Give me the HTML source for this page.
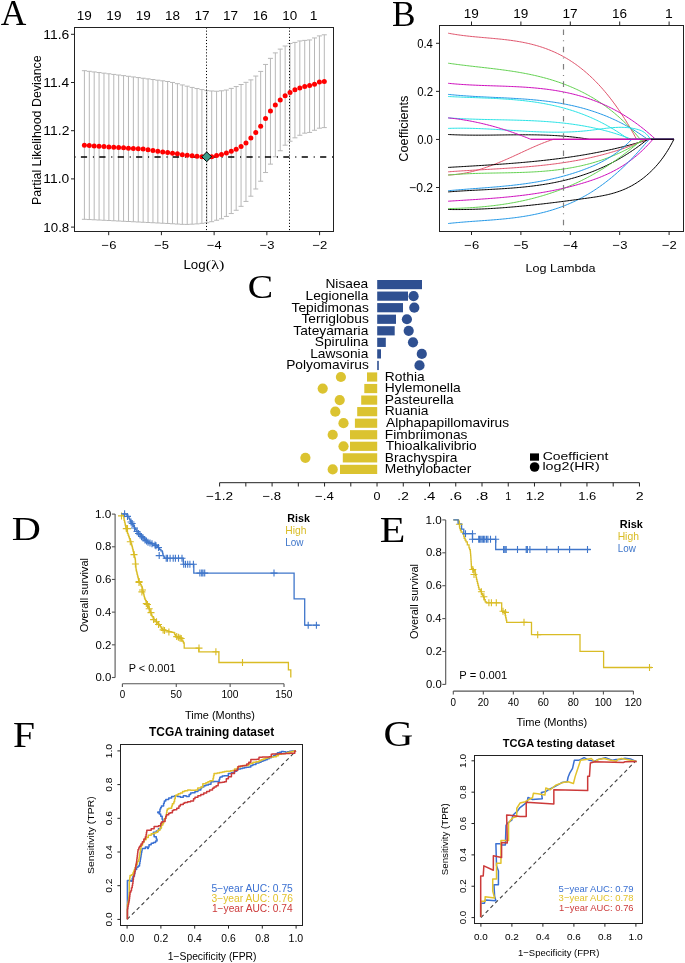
<!DOCTYPE html>
<html><head><meta charset="utf-8"><style>html,body{margin:0;padding:0;background:#fff;width:685px;height:963px;overflow:hidden}svg{display:block} text{-webkit-font-smoothing:antialiased} svg{will-change:transform}</style></head>
<body><svg width="685" height="963" viewBox="0 0 685 963">
<rect width="685" height="963" fill="#fff"/>
<text x="0.65" y="25.00" font-size="34.85" textLength="25.61" lengthAdjust="spacingAndGlyphs" fill="#000" font-family='"Liberation Serif", serif' font-weight="normal" >A</text>
<text x="391.88" y="26.00" font-size="35.71" textLength="23.55" lengthAdjust="spacingAndGlyphs" fill="#000" font-family='"Liberation Serif", serif' font-weight="normal" >B</text>
<text x="247.74" y="298.40" font-size="32.74" textLength="25.35" lengthAdjust="spacingAndGlyphs" fill="#000" font-family='"Liberation Serif", serif' font-weight="normal" >C</text>
<text x="11.73" y="539.70" font-size="33.94" textLength="29.09" lengthAdjust="spacingAndGlyphs" fill="#000" font-family='"Liberation Serif", serif' font-weight="normal" >D</text>
<text x="379.78" y="542.20" font-size="35.27" textLength="25.60" lengthAdjust="spacingAndGlyphs" fill="#000" font-family='"Liberation Serif", serif' font-weight="normal" >E</text>
<text x="12.95" y="747.10" font-size="35.88" textLength="21.97" lengthAdjust="spacingAndGlyphs" fill="#000" font-family='"Liberation Serif", serif' font-weight="normal" >F</text>
<text x="383.51" y="746.40" font-size="35.86" textLength="29.78" lengthAdjust="spacingAndGlyphs" fill="#000" font-family='"Liberation Serif", serif' font-weight="normal" >G</text>
<path d="M84.40,70.70V219.30M81.90,70.70H86.90M81.90,219.30H86.90M89.30,71.32V219.55M86.80,71.32H91.80M86.80,219.55H91.80M94.19,71.94V219.79M91.69,71.94H96.69M91.69,219.79H96.69M99.09,72.55V220.04M96.59,72.55H101.59M96.59,220.04H101.59M103.98,73.17V220.28M101.48,73.17H106.48M101.48,220.28H106.48M108.88,73.79V220.53M106.38,73.79H111.38M106.38,220.53H111.38M113.78,74.41V220.78M111.28,74.41H116.28M111.28,220.78H116.28M118.67,75.03V221.02M116.17,75.03H121.17M116.17,221.02H121.17M123.57,75.65V221.27M121.07,75.65H126.07M121.07,221.27H126.07M128.46,76.29V221.51M125.96,76.29H130.96M125.96,221.51H130.96M133.36,76.94V221.76M130.86,76.94H135.86M130.86,221.76H135.86M138.26,77.59V222.01M135.76,77.59H140.76M135.76,222.01H140.76M143.15,78.24V222.25M140.65,78.24H145.65M140.65,222.25H145.65M148.05,78.89V222.50M145.55,78.89H150.55M145.55,222.50H150.55M152.94,79.54V222.74M150.44,79.54H155.44M150.44,222.74H155.44M157.84,80.19V222.99M155.34,80.19H160.34M155.34,222.99H160.34M162.74,80.84V223.24M160.24,80.84H165.24M160.24,223.24H165.24M167.63,81.49V223.48M165.13,81.49H170.13M165.13,223.48H170.13M172.53,82.44V223.75M170.03,82.44H175.03M170.03,223.75H175.03M177.42,83.69V224.05M174.92,83.69H179.92M174.92,224.05H179.92M182.32,84.94V224.34M179.82,84.94H184.82M179.82,224.34H184.82M187.22,86.18V224.40M184.72,86.18H189.72M184.72,224.40H189.72M192.11,87.42V224.18M189.61,87.42H194.61M189.61,224.18H194.61M197.01,88.56V223.89M194.51,88.56H199.51M194.51,223.89H199.51M201.90,89.59V223.35M199.40,89.59H204.40M199.40,223.35H204.40M206.80,90.61V222.76M204.30,90.61H209.30M204.30,222.76H209.30M211.70,90.98V221.71M209.20,90.98H214.20M209.20,221.71H214.20M216.59,91.24V220.24M214.09,91.24H219.09M214.09,220.24H219.09M221.49,90.81V218.80M218.99,90.81H223.99M218.99,218.80H223.99M226.38,90.03V216.41M223.88,90.03H228.88M223.88,216.41H228.88M231.28,88.38V213.55M228.78,88.38H233.78M228.78,213.55H233.78M236.18,86.59V210.26M233.68,86.59H238.68M233.68,210.26H238.68M241.07,84.51V206.33M238.57,84.51H243.57M238.57,206.33H243.57M245.97,82.34V201.42M243.47,82.34H248.47M243.47,201.42H248.47M250.86,79.89V196.21M248.36,79.89H253.36M248.36,196.21H253.36M255.76,76.05V188.99M253.26,76.05H258.26M253.26,188.99H258.26M260.66,71.42V181.22M258.16,71.42H263.16M258.16,181.22H263.16M265.55,64.44V172.54M263.05,64.44H268.05M263.05,172.54H268.05M270.45,58.35V164.13M267.95,58.35H272.95M267.95,164.13H272.95M275.34,52.89V156.82M272.84,52.89H277.84M272.84,156.82H277.84M280.24,49.11V150.74M277.74,49.11H282.74M277.74,150.74H282.74M285.14,46.03V145.19M282.64,46.03H287.64M282.64,145.19H287.64M290.03,43.47V141.24M287.53,43.47H292.53M287.53,141.24H292.53M294.93,42.40V137.83M292.43,42.40H297.43M292.43,137.83H297.43M299.82,40.96V135.26M297.32,40.96H302.32M297.32,135.26H302.32M304.72,40.38V133.17M302.22,40.38H307.22M302.22,133.17H307.22M309.62,39.95V132.45M307.12,39.95H312.12M307.12,132.45H312.12M314.51,37.95V130.25M312.01,37.95H317.01M312.01,130.25H317.01M319.41,35.90V128.20M316.91,35.90H321.91M316.91,128.20H321.91M324.30,34.80V127.60M321.80,34.80H326.80M321.80,127.60H326.80" stroke="#b8b8b8" stroke-width="1" fill="none"/>
<line x1="206.50" y1="27.50" x2="206.50" y2="231.50" stroke="#000" stroke-width="1" stroke-dasharray="1.1 2.0"/>
<line x1="289.50" y1="27.50" x2="289.50" y2="231.50" stroke="#000" stroke-width="1" stroke-dasharray="1.1 2.0"/>
<line x1="74.50" y1="156.90" x2="333.50" y2="156.90" stroke="#000" stroke-width="1.5" stroke-dasharray="1 5.4 6.2 5.8"/>
<g fill="#ff0000"><circle cx="84.40" cy="145.30" r="2.5"/><circle cx="89.30" cy="145.62" r="2.5"/><circle cx="94.19" cy="145.93" r="2.5"/><circle cx="99.09" cy="146.25" r="2.5"/><circle cx="103.98" cy="146.57" r="2.5"/><circle cx="108.88" cy="146.88" r="2.5"/><circle cx="113.78" cy="147.20" r="2.5"/><circle cx="118.67" cy="147.51" r="2.5"/><circle cx="123.57" cy="147.83" r="2.5"/><circle cx="128.46" cy="148.15" r="2.5"/><circle cx="133.36" cy="148.46" r="2.5"/><circle cx="138.26" cy="148.78" r="2.5"/><circle cx="143.15" cy="149.10" r="2.5"/><circle cx="148.05" cy="149.79" r="2.5"/><circle cx="152.94" cy="150.49" r="2.5"/><circle cx="157.84" cy="151.19" r="2.5"/><circle cx="162.74" cy="151.89" r="2.5"/><circle cx="167.63" cy="152.59" r="2.5"/><circle cx="172.53" cy="153.22" r="2.5"/><circle cx="177.42" cy="153.70" r="2.5"/><circle cx="182.32" cy="154.64" r="2.5"/><circle cx="187.22" cy="155.13" r="2.5"/><circle cx="192.11" cy="155.64" r="2.5"/><circle cx="197.01" cy="156.32" r="2.5"/><circle cx="201.90" cy="156.80" r="2.5"/><circle cx="206.80" cy="156.80" r="2.5"/><circle cx="211.70" cy="156.73" r="2.5"/><circle cx="216.59" cy="155.56" r="2.5"/><circle cx="221.49" cy="154.57" r="2.5"/><circle cx="226.38" cy="153.07" r="2.5"/><circle cx="231.28" cy="151.31" r="2.5"/><circle cx="236.18" cy="149.15" r="2.5"/><circle cx="241.07" cy="146.47" r="2.5"/><circle cx="245.97" cy="143.06" r="2.5"/><circle cx="250.86" cy="137.91" r="2.5"/><circle cx="255.76" cy="132.59" r="2.5"/><circle cx="260.66" cy="126.21" r="2.5"/><circle cx="265.55" cy="118.52" r="2.5"/><circle cx="270.45" cy="110.98" r="2.5"/><circle cx="275.34" cy="104.89" r="2.5"/><circle cx="280.24" cy="99.96" r="2.5"/><circle cx="285.14" cy="95.73" r="2.5"/><circle cx="290.03" cy="92.52" r="2.5"/><circle cx="294.93" cy="89.75" r="2.5"/><circle cx="299.82" cy="88.01" r="2.5"/><circle cx="304.72" cy="86.60" r="2.5"/><circle cx="309.62" cy="85.62" r="2.5"/><circle cx="314.51" cy="84.16" r="2.5"/><circle cx="319.41" cy="82.10" r="2.5"/><circle cx="324.30" cy="81.40" r="2.5"/></g>
<path d="M206.7,151.9L211.6,156.8L206.7,161.70000000000002L201.79999999999998,156.8Z" fill="#3d9c8a" stroke="#000" stroke-width="1"/>
<rect x="74.5" y="27.5" width="259.0" height="204.0" fill="none" stroke="#222" stroke-width="1"/>
<line x1="71.00" y1="34.30" x2="74.50" y2="34.30" stroke="#222" stroke-width="1" />
<text x="43.35" y="38.70" font-size="12.30" textLength="25.97" lengthAdjust="spacingAndGlyphs" fill="#000" font-family='"Liberation Sans", sans-serif' font-weight="normal" >11.6</text>
<line x1="71.00" y1="82.50" x2="74.50" y2="82.50" stroke="#222" stroke-width="1" />
<text x="43.35" y="86.90" font-size="12.30" textLength="25.75" lengthAdjust="spacingAndGlyphs" fill="#000" font-family='"Liberation Sans", sans-serif' font-weight="normal" >11.4</text>
<line x1="71.00" y1="130.70" x2="74.50" y2="130.70" stroke="#222" stroke-width="1" />
<text x="43.34" y="135.10" font-size="12.30" textLength="26.05" lengthAdjust="spacingAndGlyphs" fill="#000" font-family='"Liberation Sans", sans-serif' font-weight="normal" >11.2</text>
<line x1="71.00" y1="178.90" x2="74.50" y2="178.90" stroke="#222" stroke-width="1" />
<text x="43.35" y="183.30" font-size="12.30" textLength="25.89" lengthAdjust="spacingAndGlyphs" fill="#000" font-family='"Liberation Sans", sans-serif' font-weight="normal" >11.0</text>
<line x1="71.00" y1="227.10" x2="74.50" y2="227.10" stroke="#222" stroke-width="1" />
<text x="43.39" y="231.50" font-size="12.30" textLength="25.89" lengthAdjust="spacingAndGlyphs" fill="#000" font-family='"Liberation Sans", sans-serif' font-weight="normal" >10.8</text>
<line x1="108.70" y1="231.50" x2="108.70" y2="235.20" stroke="#222" stroke-width="1" />
<text x="101.56" y="249.10" font-size="11.70" textLength="14.81" lengthAdjust="spacingAndGlyphs" fill="#000" font-family='"Liberation Sans", sans-serif' font-weight="normal" >−6</text>
<line x1="161.42" y1="231.50" x2="161.42" y2="235.20" stroke="#222" stroke-width="1" />
<text x="154.28" y="249.10" font-size="11.70" textLength="14.78" lengthAdjust="spacingAndGlyphs" fill="#000" font-family='"Liberation Sans", sans-serif' font-weight="normal" >−5</text>
<line x1="214.14" y1="231.50" x2="214.14" y2="235.20" stroke="#222" stroke-width="1" />
<text x="207.01" y="249.10" font-size="11.70" textLength="14.60" lengthAdjust="spacingAndGlyphs" fill="#000" font-family='"Liberation Sans", sans-serif' font-weight="normal" >−4</text>
<line x1="266.86" y1="231.50" x2="266.86" y2="235.20" stroke="#222" stroke-width="1" />
<text x="259.72" y="249.10" font-size="11.70" textLength="14.81" lengthAdjust="spacingAndGlyphs" fill="#000" font-family='"Liberation Sans", sans-serif' font-weight="normal" >−3</text>
<line x1="319.58" y1="231.50" x2="319.58" y2="235.20" stroke="#222" stroke-width="1" />
<text x="312.44" y="249.10" font-size="11.70" textLength="14.90" lengthAdjust="spacingAndGlyphs" fill="#000" font-family='"Liberation Sans", sans-serif' font-weight="normal" >−2</text>
<text x="76.67" y="20.10" font-size="13.10" textLength="15.07" lengthAdjust="spacingAndGlyphs" fill="#000" font-family='"Liberation Sans", sans-serif' font-weight="normal" >19</text>
<text x="106.37" y="20.10" font-size="13.10" textLength="15.07" lengthAdjust="spacingAndGlyphs" fill="#000" font-family='"Liberation Sans", sans-serif' font-weight="normal" >19</text>
<text x="135.67" y="20.10" font-size="13.10" textLength="15.07" lengthAdjust="spacingAndGlyphs" fill="#000" font-family='"Liberation Sans", sans-serif' font-weight="normal" >19</text>
<text x="165.07" y="20.10" font-size="13.10" textLength="15.01" lengthAdjust="spacingAndGlyphs" fill="#000" font-family='"Liberation Sans", sans-serif' font-weight="normal" >18</text>
<text x="194.57" y="20.10" font-size="13.10" textLength="15.12" lengthAdjust="spacingAndGlyphs" fill="#000" font-family='"Liberation Sans", sans-serif' font-weight="normal" >17</text>
<text x="223.07" y="20.10" font-size="13.10" textLength="15.12" lengthAdjust="spacingAndGlyphs" fill="#000" font-family='"Liberation Sans", sans-serif' font-weight="normal" >17</text>
<text x="252.87" y="20.10" font-size="13.10" textLength="15.03" lengthAdjust="spacingAndGlyphs" fill="#000" font-family='"Liberation Sans", sans-serif' font-weight="normal" >16</text>
<text x="282.18" y="20.10" font-size="13.10" textLength="14.95" lengthAdjust="spacingAndGlyphs" fill="#000" font-family='"Liberation Sans", sans-serif' font-weight="normal" >10</text>
<text x="309.84" y="20.10" font-size="13.10" textLength="7.74" lengthAdjust="spacingAndGlyphs" fill="#000" font-family='"Liberation Sans", sans-serif' font-weight="normal" >1</text>
<text x="183.41" y="268.90" font-size="11.90" textLength="22.25" lengthAdjust="spacingAndGlyphs" fill="#000" font-family='"Liberation Sans", sans-serif' font-weight="normal" >Log</text>
<text x="205.89" y="268.90" font-size="13.20" textLength="18.62" lengthAdjust="spacingAndGlyphs" fill="#000" font-family='"Liberation Serif", serif' font-weight="normal" >(λ)</text>
<text transform="translate(40.80,204.00) rotate(-90)" x="-1.02" y="0" font-size="13.50" textLength="149.67" lengthAdjust="spacingAndGlyphs" fill="#000" font-family='"Liberation Sans", sans-serif' font-weight="normal">Partial Likelihood Deviance</text>
<rect x="439.5" y="25.5" width="244.0" height="206.0" fill="none" stroke="#222" stroke-width="1"/>
<line x1="436.00" y1="43.30" x2="439.50" y2="43.30" stroke="#222" stroke-width="1" />
<text x="417.16" y="47.70" font-size="12.30" textLength="15.67" lengthAdjust="spacingAndGlyphs" fill="#000" font-family='"Liberation Sans", sans-serif' font-weight="normal" >0.4</text>
<line x1="436.00" y1="91.37" x2="439.50" y2="91.37" stroke="#222" stroke-width="1" />
<text x="417.15" y="95.77" font-size="12.30" textLength="15.92" lengthAdjust="spacingAndGlyphs" fill="#000" font-family='"Liberation Sans", sans-serif' font-weight="normal" >0.2</text>
<line x1="436.00" y1="139.44" x2="439.50" y2="139.44" stroke="#222" stroke-width="1" />
<text x="417.16" y="143.84" font-size="12.30" textLength="15.79" lengthAdjust="spacingAndGlyphs" fill="#000" font-family='"Liberation Sans", sans-serif' font-weight="normal" >0.0</text>
<line x1="436.00" y1="187.51" x2="439.50" y2="187.51" stroke="#222" stroke-width="1" />
<text x="409.10" y="191.91" font-size="12.30" textLength="24.01" lengthAdjust="spacingAndGlyphs" fill="#000" font-family='"Liberation Sans", sans-serif' font-weight="normal" >−0.2</text>
<line x1="471.50" y1="231.50" x2="471.50" y2="235.00" stroke="#222" stroke-width="1" />
<line x1="471.50" y1="25.50" x2="471.50" y2="21.50" stroke="#222" stroke-width="1" />
<text x="464.36" y="248.60" font-size="11.70" textLength="14.81" lengthAdjust="spacingAndGlyphs" fill="#000" font-family='"Liberation Sans", sans-serif' font-weight="normal" >−6</text>
<text x="463.77" y="18.30" font-size="12.50" textLength="15.07" lengthAdjust="spacingAndGlyphs" fill="#000" font-family='"Liberation Sans", sans-serif' font-weight="normal" >19</text>
<line x1="520.90" y1="231.50" x2="520.90" y2="235.00" stroke="#222" stroke-width="1" />
<line x1="520.90" y1="25.50" x2="520.90" y2="21.50" stroke="#222" stroke-width="1" />
<text x="513.76" y="248.60" font-size="11.70" textLength="14.78" lengthAdjust="spacingAndGlyphs" fill="#000" font-family='"Liberation Sans", sans-serif' font-weight="normal" >−5</text>
<text x="513.17" y="18.30" font-size="12.50" textLength="15.07" lengthAdjust="spacingAndGlyphs" fill="#000" font-family='"Liberation Sans", sans-serif' font-weight="normal" >19</text>
<line x1="570.30" y1="231.50" x2="570.30" y2="235.00" stroke="#222" stroke-width="1" />
<line x1="570.30" y1="25.50" x2="570.30" y2="21.50" stroke="#222" stroke-width="1" />
<text x="563.17" y="248.60" font-size="11.70" textLength="14.60" lengthAdjust="spacingAndGlyphs" fill="#000" font-family='"Liberation Sans", sans-serif' font-weight="normal" >−4</text>
<text x="562.57" y="18.30" font-size="12.50" textLength="15.12" lengthAdjust="spacingAndGlyphs" fill="#000" font-family='"Liberation Sans", sans-serif' font-weight="normal" >17</text>
<line x1="619.70" y1="231.50" x2="619.70" y2="235.00" stroke="#222" stroke-width="1" />
<line x1="619.70" y1="25.50" x2="619.70" y2="21.50" stroke="#222" stroke-width="1" />
<text x="612.56" y="248.60" font-size="11.70" textLength="14.81" lengthAdjust="spacingAndGlyphs" fill="#000" font-family='"Liberation Sans", sans-serif' font-weight="normal" >−3</text>
<text x="611.97" y="18.30" font-size="12.50" textLength="15.03" lengthAdjust="spacingAndGlyphs" fill="#000" font-family='"Liberation Sans", sans-serif' font-weight="normal" >16</text>
<line x1="669.10" y1="231.50" x2="669.10" y2="235.00" stroke="#222" stroke-width="1" />
<line x1="669.10" y1="25.50" x2="669.10" y2="21.50" stroke="#222" stroke-width="1" />
<text x="661.96" y="248.60" font-size="11.70" textLength="14.90" lengthAdjust="spacingAndGlyphs" fill="#000" font-family='"Liberation Sans", sans-serif' font-weight="normal" >−2</text>
<text x="665.04" y="18.30" font-size="12.50" textLength="7.74" lengthAdjust="spacingAndGlyphs" fill="#000" font-family='"Liberation Sans", sans-serif' font-weight="normal" >1</text>
<text x="525.57" y="272.00" font-size="11.70" textLength="70.03" lengthAdjust="spacingAndGlyphs" fill="#000" font-family='"Liberation Sans", sans-serif' font-weight="normal" >Log Lambda</text>
<text transform="translate(408.20,161.00) rotate(-90)" x="-0.65" y="0" font-size="12.50" textLength="66.10" lengthAdjust="spacingAndGlyphs" fill="#000" font-family='"Liberation Sans", sans-serif' font-weight="normal">Coefficients</text>
<g clip-path="url(#clipB)">
<polyline points="448.20,33.18 449.72,33.47 451.24,33.74 452.76,34.01 454.28,34.26 455.80,34.50 457.32,34.73 458.84,34.95 460.35,35.16 461.87,35.36 463.39,35.56 464.91,35.74 466.43,35.92 467.95,36.09 469.47,36.26 470.99,36.41 472.51,36.57 474.03,36.72 475.55,36.86 477.07,37.01 478.59,37.15 480.11,37.28 481.63,37.42 483.15,37.55 484.66,37.68 486.18,37.81 487.70,37.95 489.22,38.08 490.74,38.21 492.26,38.35 493.78,38.49 495.30,38.63 496.82,38.77 498.34,38.92 499.86,39.07 501.38,39.23 502.90,39.40 504.42,39.57 505.94,39.74 507.45,39.93 508.97,40.12 510.49,40.32 512.01,40.53 513.53,40.75 515.05,40.97 516.57,41.21 518.09,41.46 519.61,41.72 521.13,41.99 522.65,42.28 524.17,42.58 525.69,42.89 527.21,43.22 528.73,43.56 530.25,43.92 531.76,44.29 533.28,44.68 534.80,45.08 536.32,45.51 537.84,45.95 539.36,46.41 540.88,46.89 542.40,47.39 543.92,47.90 545.44,48.44 546.96,49.00 548.48,49.59 550.00,50.19 551.52,50.82 553.04,51.47 554.55,52.14 556.07,52.84 557.59,53.57 559.11,54.32 560.63,55.09 562.15,55.89 563.67,56.72 565.19,57.58 566.71,58.47 568.23,59.38 569.75,60.32 571.27,61.30 572.79,62.30 574.31,63.34 575.83,64.40 577.35,65.50 578.86,66.63 580.38,67.80 581.90,68.99 583.42,70.22 584.94,71.49 586.46,72.79 587.98,74.13 589.50,75.50 591.02,76.91 592.54,78.36 594.06,79.85 595.58,81.37 597.10,82.94 598.62,84.54 600.14,86.18 601.65,87.87 603.17,89.59 604.69,91.36 606.21,93.18 607.73,95.03 609.25,96.93 610.77,98.87 612.29,100.86 613.81,102.90 615.33,104.98 616.85,107.10 618.37,109.28 619.89,111.50 621.41,113.77 622.93,116.10 624.45,118.47 625.96,120.89 627.48,123.36 629.00,125.89 630.52,128.46 632.04,131.09 633.56,133.78 635.08,136.51 636.60,139.30 673.90,139.30" fill="none" stroke="#DF536B" stroke-width="1.0" stroke-linejoin="round"/>
<polyline points="448.20,63.19 449.71,63.41 451.23,63.62 452.74,63.83 454.25,64.04 455.76,64.25 457.28,64.44 458.79,64.64 460.30,64.83 461.81,65.02 463.33,65.21 464.84,65.39 466.35,65.57 467.86,65.75 469.38,65.93 470.89,66.11 472.40,66.28 473.91,66.46 475.43,66.63 476.94,66.80 478.45,66.97 479.96,67.14 481.48,67.32 482.99,67.49 484.50,67.66 486.01,67.83 487.53,68.01 489.04,68.19 490.55,68.36 492.07,68.54 493.58,68.73 495.09,68.91 496.60,69.10 498.12,69.29 499.63,69.48 501.14,69.68 502.65,69.88 504.17,70.08 505.68,70.29 507.19,70.50 508.70,70.72 510.22,70.94 511.73,71.17 513.24,71.40 514.75,71.64 516.27,71.89 517.78,72.14 519.29,72.40 520.80,72.66 522.32,72.93 523.83,73.21 525.34,73.49 526.86,73.79 528.37,74.09 529.88,74.40 531.39,74.72 532.91,75.04 534.42,75.38 535.93,75.72 537.44,76.08 538.96,76.44 540.47,76.82 541.98,77.20 543.49,77.59 545.01,78.00 546.52,78.42 548.03,78.84 549.54,79.28 551.06,79.73 552.57,80.20 554.08,80.67 555.59,81.16 557.11,81.66 558.62,82.17 560.13,82.70 561.64,83.24 563.16,83.79 564.67,84.36 566.18,84.94 567.70,85.54 569.21,86.15 570.72,86.77 572.23,87.41 573.75,88.07 575.26,88.74 576.77,89.43 578.28,90.14 579.80,90.86 581.31,91.60 582.82,92.36 584.33,93.13 585.85,93.93 587.36,94.74 588.87,95.58 590.38,96.43 591.90,97.31 593.41,98.20 594.92,99.12 596.43,100.07 597.95,101.03 599.46,102.02 600.97,103.03 602.49,104.07 604.00,105.13 605.51,106.21 607.02,107.33 608.54,108.47 610.05,109.63 611.56,110.82 613.07,112.04 614.59,113.29 616.10,114.57 617.61,115.88 619.12,117.21 620.64,118.58 622.15,119.98 623.66,121.40 625.17,122.86 626.69,124.35 628.20,125.88 629.71,127.44 631.22,129.03 632.74,130.65 634.25,132.31 635.76,134.01 637.27,135.74 638.79,137.50 640.30,139.30 673.90,139.30" fill="none" stroke="#61D04F" stroke-width="1.0" stroke-linejoin="round"/>
<polyline points="448.20,83.29 449.71,83.44 451.23,83.59 452.74,83.73 454.26,83.86 455.77,83.99 457.28,84.11 458.80,84.23 460.31,84.34 461.82,84.44 463.34,84.54 464.85,84.64 466.37,84.73 467.88,84.81 469.39,84.90 470.91,84.97 472.42,85.05 473.94,85.12 475.45,85.19 476.96,85.25 478.48,85.32 479.99,85.38 481.51,85.43 483.02,85.49 484.53,85.54 486.05,85.60 487.56,85.65 489.07,85.70 490.59,85.75 492.10,85.80 493.62,85.85 495.13,85.90 496.64,85.95 498.16,86.00 499.67,86.05 501.19,86.10 502.70,86.15 504.21,86.20 505.73,86.26 507.24,86.32 508.75,86.38 510.27,86.44 511.78,86.50 513.30,86.57 514.81,86.64 516.32,86.71 517.84,86.79 519.35,86.87 520.87,86.95 522.38,87.04 523.89,87.14 525.41,87.23 526.92,87.34 528.44,87.45 529.95,87.56 531.46,87.68 532.98,87.80 534.49,87.93 536.00,88.07 537.52,88.22 539.03,88.37 540.55,88.53 542.06,88.69 543.57,88.86 545.09,89.04 546.60,89.23 548.12,89.43 549.63,89.64 551.14,89.85 552.66,90.07 554.17,90.31 555.68,90.55 557.20,90.80 558.71,91.06 560.23,91.33 561.74,91.61 563.25,91.91 564.77,92.21 566.28,92.53 567.80,92.85 569.31,93.19 570.82,93.54 572.34,93.90 573.85,94.27 575.36,94.66 576.88,95.06 578.39,95.47 579.91,95.90 581.42,96.34 582.93,96.79 584.45,97.25 585.96,97.74 587.48,98.23 588.99,98.74 590.50,99.27 592.02,99.81 593.53,100.36 595.05,100.93 596.56,101.52 598.07,102.12 599.59,102.74 601.10,103.38 602.61,104.03 604.13,104.70 605.64,105.39 607.16,106.09 608.67,106.81 610.18,107.55 611.70,108.31 613.21,109.09 614.73,109.88 616.24,110.70 617.75,111.53 619.27,112.39 620.78,113.26 622.29,114.15 623.81,115.06 625.32,116.00 626.84,116.95 628.35,117.93 629.86,118.92 631.38,119.94 632.89,120.98 634.41,122.04 635.92,123.12 637.43,124.23 638.95,125.35 640.46,126.50 641.98,127.68 643.49,128.87 645.00,130.09 646.52,131.34 648.03,132.60 649.54,133.90 651.06,135.21 652.57,136.55 654.09,137.92 655.60,139.30 673.90,139.30" fill="none" stroke="#CD0BBC" stroke-width="1.0" stroke-linejoin="round"/>
<polyline points="448.20,94.38 449.72,94.54 451.24,94.69 452.77,94.84 454.29,94.98 455.81,95.12 457.33,95.25 458.85,95.37 460.38,95.49 461.90,95.61 463.42,95.72 464.94,95.83 466.47,95.94 467.99,96.04 469.51,96.13 471.03,96.23 472.55,96.32 474.08,96.41 475.60,96.49 477.12,96.58 478.64,96.66 480.16,96.74 481.69,96.81 483.21,96.89 484.73,96.96 486.25,97.04 487.78,97.11 489.30,97.18 490.82,97.25 492.34,97.32 493.86,97.39 495.39,97.46 496.91,97.53 498.43,97.60 499.95,97.67 501.47,97.74 503.00,97.82 504.52,97.89 506.04,97.97 507.56,98.04 509.09,98.12 510.61,98.20 512.13,98.29 513.65,98.37 515.17,98.46 516.70,98.55 518.22,98.65 519.74,98.74 521.26,98.85 522.78,98.95 524.31,99.06 525.83,99.17 527.35,99.29 528.87,99.41 530.40,99.54 531.92,99.67 533.44,99.80 534.96,99.94 536.48,100.09 538.01,100.24 539.53,100.40 541.05,100.57 542.57,100.74 544.09,100.91 545.62,101.10 547.14,101.29 548.66,101.49 550.18,101.69 551.71,101.90 553.23,102.12 554.75,102.35 556.27,102.59 557.79,102.83 559.32,103.09 560.84,103.35 562.36,103.62 563.88,103.90 565.40,104.19 566.93,104.49 568.45,104.80 569.97,105.11 571.49,105.44 573.02,105.78 574.54,106.13 576.06,106.49 577.58,106.86 579.10,107.24 580.63,107.64 582.15,108.04 583.67,108.46 585.19,108.89 586.71,109.33 588.24,109.78 589.76,110.25 591.28,110.73 592.80,111.22 594.33,111.72 595.85,112.24 597.37,112.77 598.89,113.32 600.41,113.88 601.94,114.45 603.46,115.04 604.98,115.64 606.50,116.26 608.02,116.89 609.55,117.54 611.07,118.20 612.59,118.88 614.11,119.57 615.64,120.28 617.16,121.01 618.68,121.75 620.20,122.51 621.72,123.29 623.25,124.08 624.77,124.89 626.29,125.72 627.81,126.57 629.33,127.43 630.86,128.31 632.38,129.21 633.90,130.13 635.42,131.07 636.95,132.02 638.47,133.00 639.99,133.99 641.51,135.00 643.03,136.04 644.56,137.09 646.08,138.16 647.60,139.30 673.90,139.30" fill="none" stroke="#2297E6" stroke-width="1.0" stroke-linejoin="round"/>
<polyline points="448.20,96.50 449.72,96.58 451.23,96.66 452.75,96.73 454.26,96.81 455.78,96.88 457.30,96.94 458.81,97.01 460.33,97.07 461.84,97.13 463.36,97.19 464.88,97.25 466.39,97.31 467.91,97.37 469.42,97.42 470.94,97.48 472.46,97.54 473.97,97.59 475.49,97.65 477.00,97.70 478.52,97.76 480.04,97.82 481.55,97.88 483.07,97.94 484.58,98.00 486.10,98.06 487.62,98.12 489.13,98.19 490.65,98.26 492.16,98.33 493.68,98.40 495.19,98.48 496.71,98.55 498.23,98.64 499.74,98.72 501.26,98.81 502.77,98.90 504.29,99.00 505.81,99.10 507.32,99.20 508.84,99.31 510.35,99.43 511.87,99.55 513.39,99.67 514.90,99.80 516.42,99.93 517.93,100.08 519.45,100.22 520.97,100.37 522.48,100.53 524.00,100.70 525.51,100.87 527.03,101.05 528.55,101.24 530.06,101.43 531.58,101.63 533.09,101.84 534.61,102.06 536.13,102.28 537.64,102.52 539.16,102.76 540.67,103.01 542.19,103.27 543.71,103.54 545.22,103.82 546.74,104.11 548.25,104.40 549.77,104.71 551.29,105.03 552.80,105.36 554.32,105.69 555.83,106.04 557.35,106.40 558.87,106.77 560.38,107.16 561.90,107.55 563.41,107.96 564.93,108.37 566.45,108.80 567.96,109.25 569.48,109.70 570.99,110.17 572.51,110.65 574.03,111.14 575.54,111.65 577.06,112.17 578.57,112.70 580.09,113.25 581.61,113.81 583.12,114.39 584.64,114.98 586.15,115.59 587.67,116.21 589.18,116.84 590.70,117.49 592.22,118.16 593.73,118.84 595.25,119.54 596.76,120.26 598.28,120.99 599.80,121.73 601.31,122.50 602.83,123.28 604.34,124.08 605.86,124.89 607.38,125.73 608.89,126.58 610.41,127.45 611.92,128.33 613.44,129.24 614.96,130.16 616.47,131.10 617.99,132.07 619.50,133.05 621.02,134.05 622.54,135.07 624.05,136.10 625.57,137.16 627.08,138.24 628.60,139.30 673.90,139.30" fill="none" stroke="#28E2E5" stroke-width="1.0" stroke-linejoin="round"/>
<polyline points="448.20,117.89 449.71,117.99 451.23,118.09 452.74,118.19 454.26,118.29 455.77,118.37 457.29,118.46 458.80,118.54 460.32,118.62 461.83,118.69 463.35,118.76 464.86,118.83 466.38,118.89 467.89,118.95 469.41,119.01 470.92,119.07 472.44,119.12 473.95,119.17 475.47,119.22 476.98,119.26 478.50,119.30 480.01,119.35 481.53,119.39 483.04,119.43 484.56,119.46 486.07,119.50 487.59,119.53 489.10,119.57 490.62,119.60 492.13,119.63 493.65,119.66 495.16,119.69 496.68,119.73 498.19,119.76 499.71,119.79 501.22,119.82 502.74,119.85 504.25,119.88 505.77,119.91 507.28,119.95 508.80,119.98 510.31,120.02 511.82,120.05 513.34,120.09 514.85,120.13 516.37,120.17 517.88,120.22 519.40,120.26 520.91,120.31 522.43,120.36 523.94,120.41 525.46,120.46 526.97,120.52 528.49,120.58 530.00,120.64 531.52,120.71 533.03,120.78 534.55,120.85 536.06,120.93 537.58,121.01 539.09,121.09 540.61,121.18 542.12,121.27 543.64,121.36 545.15,121.46 546.67,121.57 548.18,121.68 549.70,121.79 551.21,121.91 552.73,122.04 554.24,122.17 555.76,122.30 557.27,122.45 558.79,122.59 560.30,122.74 561.82,122.90 563.33,123.07 564.85,123.24 566.36,123.42 567.88,123.60 569.39,123.79 570.90,123.99 572.42,124.20 573.93,124.41 575.45,124.63 576.96,124.86 578.48,125.09 579.99,125.33 581.51,125.58 583.02,125.84 584.54,126.11 586.05,126.38 587.57,126.67 589.08,126.96 590.60,127.26 592.11,127.57 593.63,127.89 595.14,128.22 596.66,128.56 598.17,128.91 599.69,129.26 601.20,129.63 602.72,130.01 604.23,130.40 605.75,130.79 607.26,131.20 608.78,131.62 610.29,132.05 611.81,132.49 613.32,132.94 614.84,133.40 616.35,133.88 617.87,134.36 619.38,134.86 620.90,135.36 622.41,135.89 623.93,136.42 625.44,136.96 626.96,137.52 628.47,138.09 629.99,138.67 631.50,139.30 673.90,139.30" fill="none" stroke="#28E2E5" stroke-width="1.0" stroke-linejoin="round"/>
<polyline points="448.20,128.41 449.72,128.36 451.24,128.31 452.76,128.28 454.28,128.25 455.81,128.22 457.33,128.21 458.85,128.20 460.37,128.19 461.89,128.19 463.41,128.20 464.93,128.22 466.45,128.24 467.97,128.26 469.49,128.29 471.02,128.33 472.54,128.37 474.06,128.41 475.58,128.46 477.10,128.51 478.62,128.57 480.14,128.63 481.66,128.69 483.18,128.76 484.71,128.83 486.23,128.90 487.75,128.98 489.27,129.06 490.79,129.14 492.31,129.22 493.83,129.31 495.35,129.40 496.87,129.49 498.39,129.58 499.92,129.67 501.44,129.76 502.96,129.85 504.48,129.95 506.00,130.04 507.52,130.14 509.04,130.24 510.56,130.33 512.08,130.43 513.61,130.52 515.13,130.61 516.65,130.71 518.17,130.80 519.69,130.89 521.21,130.98 522.73,131.07 524.25,131.15 525.77,131.24 527.29,131.32 528.82,131.40 530.34,131.48 531.86,131.55 533.38,131.62 534.90,131.69 536.42,131.75 537.94,131.82 539.46,131.87 540.98,131.93 542.51,131.98 544.03,132.02 545.55,132.06 547.07,132.10 548.59,132.13 550.11,132.15 551.63,132.18 553.15,132.19 554.67,132.20 556.19,132.20 557.72,132.20 559.24,132.19 560.76,132.18 562.28,132.16 563.80,132.13 565.32,132.09 566.84,132.05 568.36,132.00 569.88,131.94 571.41,131.88 572.93,131.80 574.45,131.72 575.97,131.63 577.49,131.53 579.01,131.42 580.53,131.31 582.05,131.18 583.57,131.05 585.09,130.90 586.62,130.75 588.14,130.59 589.66,130.41 591.18,130.23 592.70,130.04 594.22,129.84 595.74,129.64 597.26,129.44 598.78,129.23 600.31,129.03 601.83,128.83 603.35,128.63 604.87,128.44 606.39,128.26 607.91,128.09 609.43,127.93 610.95,127.79 612.47,127.66 613.99,127.55 615.52,127.46 617.04,127.39 618.56,127.34 620.08,127.31 621.60,127.32 623.12,127.35 624.64,127.41 626.16,127.50 627.68,127.63 629.21,127.79 630.73,128.00 632.25,128.23 633.77,128.52 635.29,128.84 636.81,129.21 638.33,129.62 639.85,130.11 641.37,130.72 642.89,131.49 644.42,132.46 645.94,133.68 647.46,135.19 648.98,137.04 650.50,139.30 673.90,139.30" fill="none" stroke="#28E2E5" stroke-width="1.0" stroke-linejoin="round"/>
<polyline points="448.20,134.50 449.72,134.58 451.23,134.65 452.75,134.71 454.26,134.77 455.78,134.83 457.30,134.88 458.81,134.92 460.33,134.97 461.85,135.00 463.36,135.04 464.88,135.06 466.39,135.09 467.91,135.11 469.43,135.13 470.94,135.14 472.46,135.15 473.97,135.16 475.49,135.17 477.01,135.17 478.52,135.17 480.04,135.17 481.55,135.16 483.07,135.16 484.59,135.15 486.10,135.14 487.62,135.12 489.14,135.11 490.65,135.10 492.17,135.08 493.68,135.07 495.20,135.05 496.72,135.03 498.23,135.01 499.75,134.99 501.26,134.97 502.78,134.96 504.30,134.94 505.81,134.92 507.33,134.90 508.85,134.89 510.36,134.87 511.88,134.86 513.39,134.84 514.91,134.83 516.43,134.82 517.94,134.81 519.46,134.80 520.97,134.80 522.49,134.79 524.01,134.79 525.52,134.80 527.04,134.80 528.55,134.81 530.07,134.82 531.59,134.83 533.10,134.85 534.62,134.87 536.14,134.89 537.65,134.92 539.17,134.95 540.68,134.99 542.20,135.03 543.72,135.07 545.23,135.12 546.75,135.18 548.26,135.24 549.78,135.30 551.30,135.37 552.81,135.45 554.33,135.53 555.85,135.61 557.36,135.70 558.88,135.80 560.39,135.91 561.91,136.02 563.43,136.14 564.94,136.26 566.46,136.39 567.97,136.53 569.49,136.67 571.01,136.83 572.52,136.99 574.04,137.16 575.55,137.33 577.07,137.52 578.59,137.71 580.10,137.91 581.62,138.12 583.14,138.34 584.65,138.56 586.17,138.80 587.68,139.04 589.20,139.30 673.90,139.30" fill="none" stroke="#000000" stroke-width="1.0" stroke-linejoin="round"/>
<polyline points="448.20,174.99 449.73,174.94 451.26,174.86 452.78,174.75 454.31,174.63 455.84,174.48 457.37,174.31 458.89,174.11 460.42,173.89 461.95,173.65 463.48,173.40 465.00,173.11 466.53,172.81 468.06,172.49 469.59,172.16 471.11,171.80 472.64,171.42 474.17,171.03 475.70,170.62 477.22,170.19 478.75,169.74 480.28,169.28 481.81,168.81 483.33,168.31 484.86,167.81 486.39,167.29 487.92,166.75 489.44,166.21 490.97,165.65 492.50,165.07 494.03,164.49 495.55,163.89 497.08,163.29 498.61,162.67 500.14,162.04 501.66,161.41 503.19,160.76 504.72,160.10 506.25,159.44 507.77,158.77 509.30,158.09 510.83,157.41 512.36,156.72 513.88,156.02 515.41,155.32 516.94,154.61 518.47,153.91 519.99,153.20 521.52,152.49 523.05,151.78 524.58,151.07 526.10,150.37 527.63,149.66 529.16,148.97 530.69,148.28 532.21,147.59 533.74,146.91 535.27,146.25 536.80,145.59 538.32,144.94 539.85,144.31 541.38,143.68 542.91,143.07 544.43,142.48 545.96,141.90 547.49,141.34 549.02,140.80 550.54,140.27 552.07,139.77 553.60,139.30 673.90,139.30" fill="none" stroke="#DF536B" stroke-width="1.0" stroke-linejoin="round"/>
<polyline points="448.20,167.42 449.71,167.33 451.22,167.24 452.74,167.15 454.25,167.06 455.76,166.98 457.27,166.89 458.78,166.80 460.30,166.71 461.81,166.63 463.32,166.54 464.83,166.45 466.34,166.36 467.86,166.27 469.37,166.18 470.88,166.09 472.39,166.01 473.90,165.92 475.42,165.82 476.93,165.73 478.44,165.64 479.95,165.55 481.46,165.46 482.98,165.36 484.49,165.27 486.00,165.17 487.51,165.07 489.02,164.98 490.54,164.88 492.05,164.78 493.56,164.68 495.07,164.58 496.58,164.47 498.10,164.37 499.61,164.26 501.12,164.16 502.63,164.05 504.15,163.94 505.66,163.83 507.17,163.72 508.68,163.60 510.19,163.49 511.71,163.37 513.22,163.25 514.73,163.13 516.24,163.01 517.75,162.88 519.27,162.75 520.78,162.63 522.29,162.49 523.80,162.36 525.31,162.23 526.83,162.09 528.34,161.95 529.85,161.81 531.36,161.67 532.87,161.52 534.39,161.37 535.90,161.22 537.41,161.07 538.92,160.91 540.43,160.75 541.95,160.59 543.46,160.43 544.97,160.26 546.48,160.09 547.99,159.92 549.51,159.74 551.02,159.56 552.53,159.38 554.04,159.20 555.55,159.01 557.07,158.82 558.58,158.63 560.09,158.43 561.60,158.23 563.11,158.03 564.63,157.82 566.14,157.61 567.65,157.39 569.16,157.18 570.67,156.96 572.19,156.73 573.70,156.50 575.21,156.27 576.72,156.03 578.23,155.80 579.75,155.55 581.26,155.30 582.77,155.05 584.28,154.80 585.79,154.54 587.31,154.27 588.82,154.01 590.33,153.73 591.84,153.46 593.35,153.18 594.87,152.89 596.38,152.60 597.89,152.31 599.40,152.01 600.92,151.71 602.43,151.40 603.94,151.09 605.45,150.77 606.96,150.45 608.48,150.13 609.99,149.79 611.50,149.46 613.01,149.12 614.52,148.77 616.04,148.42 617.55,148.06 619.06,147.70 620.57,147.34 622.08,146.97 623.60,146.59 625.11,146.21 626.62,145.82 628.13,145.43 629.64,145.03 631.16,144.62 632.67,144.21 634.18,143.80 635.69,143.38 637.20,142.95 638.72,142.52 640.23,142.08 641.74,141.64 643.25,141.19 644.76,140.73 646.28,140.27 647.79,139.80 649.30,139.30 673.90,139.30" fill="none" stroke="#000000" stroke-width="1.0" stroke-linejoin="round"/>
<polyline points="448.20,171.82 449.72,171.71 451.23,171.60 452.75,171.49 454.26,171.39 455.78,171.29 457.29,171.19 458.81,171.09 460.32,170.99 461.84,170.89 463.35,170.80 464.87,170.71 466.38,170.62 467.90,170.53 469.41,170.44 470.93,170.35 472.44,170.26 473.96,170.17 475.47,170.09 476.99,170.00 478.51,169.92 480.02,169.83 481.54,169.75 483.05,169.66 484.57,169.58 486.08,169.49 487.60,169.41 489.11,169.32 490.63,169.24 492.14,169.15 493.66,169.06 495.17,168.98 496.69,168.89 498.20,168.80 499.72,168.71 501.23,168.62 502.75,168.53 504.26,168.43 505.78,168.34 507.30,168.24 508.81,168.14 510.33,168.04 511.84,167.94 513.36,167.84 514.87,167.73 516.39,167.62 517.90,167.51 519.42,167.40 520.93,167.29 522.45,167.17 523.96,167.05 525.48,166.93 526.99,166.80 528.51,166.67 530.02,166.54 531.54,166.41 533.05,166.27 534.57,166.13 536.09,165.98 537.60,165.84 539.12,165.69 540.63,165.53 542.15,165.37 543.66,165.21 545.18,165.04 546.69,164.87 548.21,164.69 549.72,164.51 551.24,164.33 552.75,164.14 554.27,163.95 555.78,163.75 557.30,163.54 558.81,163.34 560.33,163.12 561.85,162.90 563.36,162.68 564.88,162.45 566.39,162.22 567.91,161.98 569.42,161.73 570.94,161.48 572.45,161.22 573.97,160.96 575.48,160.69 577.00,160.42 578.51,160.13 580.03,159.85 581.54,159.55 583.06,159.25 584.57,158.94 586.09,158.63 587.60,158.31 589.12,157.98 590.64,157.64 592.15,157.30 593.67,156.95 595.18,156.59 596.70,156.23 598.21,155.85 599.73,155.47 601.24,155.08 602.76,154.69 604.27,154.28 605.79,153.87 607.30,153.45 608.82,153.02 610.33,152.59 611.85,152.14 613.36,151.69 614.88,151.22 616.39,150.75 617.91,150.27 619.43,149.78 620.94,149.28 622.46,148.78 623.97,148.26 625.49,147.73 627.00,147.20 628.52,146.65 630.03,146.09 631.55,145.53 633.06,144.95 634.58,144.37 636.09,143.77 637.61,143.17 639.12,142.55 640.64,141.93 642.15,141.29 643.67,140.64 645.18,139.98 646.70,139.30 673.90,139.30" fill="none" stroke="#DF536B" stroke-width="1.0" stroke-linejoin="round"/>
<polyline points="448.20,175.01 449.72,174.88 451.24,174.75 452.76,174.63 454.27,174.52 455.79,174.41 457.31,174.31 458.83,174.21 460.35,174.12 461.87,174.03 463.39,173.95 464.90,173.88 466.42,173.80 467.94,173.74 469.46,173.67 470.98,173.61 472.50,173.56 474.02,173.50 475.53,173.45 477.05,173.41 478.57,173.37 480.09,173.32 481.61,173.29 483.13,173.25 484.65,173.22 486.17,173.18 487.68,173.15 489.20,173.12 490.72,173.10 492.24,173.07 493.76,173.04 495.28,173.02 496.80,172.99 498.31,172.96 499.83,172.94 501.35,172.91 502.87,172.89 504.39,172.86 505.91,172.83 507.43,172.80 508.94,172.77 510.46,172.74 511.98,172.71 513.50,172.67 515.02,172.63 516.54,172.59 518.06,172.55 519.57,172.50 521.09,172.45 522.61,172.40 524.13,172.35 525.65,172.29 527.17,172.22 528.69,172.16 530.20,172.09 531.72,172.01 533.24,171.93 534.76,171.84 536.28,171.75 537.80,171.66 539.32,171.56 540.83,171.45 542.35,171.34 543.87,171.22 545.39,171.09 546.91,170.96 548.43,170.82 549.95,170.68 551.47,170.52 552.98,170.36 554.50,170.20 556.02,170.02 557.54,169.84 559.06,169.64 560.58,169.44 562.10,169.23 563.61,169.02 565.13,168.79 566.65,168.55 568.17,168.31 569.69,168.05 571.21,167.79 572.73,167.51 574.24,167.23 575.76,166.93 577.28,166.62 578.80,166.30 580.32,165.98 581.84,165.63 583.36,165.28 584.87,164.92 586.39,164.54 587.91,164.15 589.43,163.75 590.95,163.34 592.47,162.92 593.99,162.48 595.50,162.02 597.02,161.56 598.54,161.08 600.06,160.59 601.58,160.08 603.10,159.56 604.62,159.02 606.13,158.47 607.65,157.90 609.17,157.32 610.69,156.73 612.21,156.12 613.73,155.49 615.25,154.84 616.77,154.18 618.28,153.51 619.80,152.82 621.32,152.11 622.84,151.38 624.36,150.64 625.88,149.88 627.40,149.10 628.91,148.30 630.43,147.49 631.95,146.65 633.47,145.80 634.99,144.93 636.51,144.04 638.03,143.14 639.54,142.21 641.06,141.26 642.58,140.29 644.10,139.30 673.90,139.30" fill="none" stroke="#61D04F" stroke-width="1.0" stroke-linejoin="round"/>
<polyline points="448.20,190.72 449.72,190.58 451.23,190.44 452.75,190.31 454.27,190.18 455.79,190.05 457.30,189.93 458.82,189.80 460.34,189.68 461.86,189.56 463.37,189.44 464.89,189.32 466.41,189.20 467.93,189.09 469.44,188.97 470.96,188.86 472.48,188.74 474.00,188.63 475.51,188.52 477.03,188.40 478.55,188.29 480.06,188.17 481.58,188.06 483.10,187.94 484.62,187.83 486.13,187.71 487.65,187.59 489.17,187.47 490.69,187.34 492.20,187.22 493.72,187.09 495.24,186.97 496.76,186.83 498.27,186.70 499.79,186.57 501.31,186.43 502.82,186.28 504.34,186.14 505.86,185.99 507.38,185.84 508.89,185.68 510.41,185.52 511.93,185.36 513.45,185.19 514.96,185.02 516.48,184.84 518.00,184.66 519.52,184.47 521.03,184.28 522.55,184.08 524.07,183.88 525.59,183.67 527.10,183.46 528.62,183.24 530.14,183.01 531.65,182.78 533.17,182.54 534.69,182.29 536.21,182.04 537.72,181.78 539.24,181.51 540.76,181.24 542.28,180.96 543.79,180.67 545.31,180.37 546.83,180.06 548.35,179.75 549.86,179.42 551.38,179.09 552.90,178.75 554.41,178.40 555.93,178.05 557.45,177.68 558.97,177.30 560.48,176.92 562.00,176.52 563.52,176.11 565.04,175.70 566.55,175.27 568.07,174.83 569.59,174.38 571.11,173.92 572.62,173.45 574.14,172.97 575.66,172.48 577.18,171.98 578.69,171.46 580.21,170.93 581.73,170.39 583.24,169.84 584.76,169.27 586.28,168.70 587.80,168.11 589.31,167.50 590.83,166.88 592.35,166.24 593.87,165.59 595.38,164.91 596.90,164.22 598.42,163.50 599.94,162.76 601.45,161.99 602.97,161.20 604.49,160.38 606.00,159.53 607.52,158.65 609.04,157.74 610.56,156.80 612.07,155.82 613.59,154.80 615.11,153.75 616.63,152.66 618.14,151.53 619.66,150.36 621.18,149.14 622.70,147.89 624.21,146.58 625.73,145.23 627.25,143.83 628.77,142.39 630.28,140.89 631.80,139.30 673.90,139.30" fill="none" stroke="#2297E6" stroke-width="1.0" stroke-linejoin="round"/>
<polyline points="448.20,191.92 449.72,191.80 451.24,191.68 452.77,191.57 454.29,191.46 455.81,191.35 457.33,191.25 458.85,191.15 460.38,191.05 461.90,190.96 463.42,190.87 464.94,190.78 466.47,190.69 467.99,190.60 469.51,190.52 471.03,190.44 472.55,190.35 474.08,190.27 475.60,190.19 477.12,190.12 478.64,190.04 480.16,189.96 481.69,189.88 483.21,189.80 484.73,189.73 486.25,189.65 487.78,189.57 489.30,189.49 490.82,189.41 492.34,189.32 493.86,189.24 495.39,189.15 496.91,189.07 498.43,188.98 499.95,188.89 501.47,188.79 503.00,188.70 504.52,188.60 506.04,188.49 507.56,188.39 509.09,188.28 510.61,188.17 512.13,188.05 513.65,187.93 515.17,187.81 516.70,187.68 518.22,187.55 519.74,187.41 521.26,187.27 522.78,187.12 524.31,186.97 525.83,186.81 527.35,186.64 528.87,186.47 530.40,186.30 531.92,186.12 533.44,185.93 534.96,185.73 536.48,185.53 538.01,185.32 539.53,185.10 541.05,184.88 542.57,184.65 544.09,184.41 545.62,184.16 547.14,183.91 548.66,183.64 550.18,183.37 551.71,183.09 553.23,182.80 554.75,182.50 556.27,182.19 557.79,181.88 559.32,181.55 560.84,181.21 562.36,180.86 563.88,180.50 565.40,180.14 566.93,179.76 568.45,179.37 569.97,178.97 571.49,178.55 573.02,178.13 574.54,177.69 576.06,177.25 577.58,176.79 579.10,176.32 580.63,175.83 582.15,175.33 583.67,174.82 585.19,174.30 586.71,173.77 588.24,173.22 589.76,172.65 591.28,172.08 592.80,171.49 594.33,170.88 595.85,170.26 597.37,169.63 598.89,168.98 600.41,168.32 601.94,167.64 603.46,166.95 604.98,166.24 606.50,165.51 608.02,164.77 609.55,164.02 611.07,163.24 612.59,162.45 614.11,161.65 615.64,160.82 617.16,159.98 618.68,159.13 620.20,158.25 621.72,157.36 623.25,156.45 624.77,155.52 626.29,154.57 627.81,153.61 629.33,152.62 630.86,151.62 632.38,150.60 633.90,149.56 635.42,148.50 636.95,147.42 638.47,146.32 639.99,145.20 641.51,144.06 643.03,142.90 644.56,141.72 646.08,140.52 647.60,139.30 673.90,139.30" fill="none" stroke="#000000" stroke-width="1.0" stroke-linejoin="round"/>
<polyline points="448.20,208.60 449.72,208.56 451.23,208.52 452.75,208.48 454.27,208.44 455.78,208.39 457.30,208.34 458.81,208.28 460.33,208.22 461.85,208.15 463.36,208.08 464.88,208.01 466.40,207.93 467.91,207.85 469.43,207.76 470.95,207.67 472.46,207.57 473.98,207.46 475.50,207.36 477.01,207.24 478.53,207.12 480.04,207.00 481.56,206.87 483.08,206.73 484.59,206.59 486.11,206.44 487.63,206.29 489.14,206.13 490.66,205.96 492.18,205.79 493.69,205.61 495.21,205.43 496.72,205.23 498.24,205.04 499.76,204.83 501.27,204.62 502.79,204.40 504.31,204.17 505.82,203.93 507.34,203.69 508.86,203.44 510.37,203.18 511.89,202.92 513.41,202.65 514.92,202.36 516.44,202.08 517.95,201.78 519.47,201.47 520.99,201.16 522.50,200.84 524.02,200.50 525.54,200.16 527.05,199.82 528.57,199.46 530.09,199.09 531.60,198.71 533.12,198.33 534.64,197.93 536.15,197.53 537.67,197.12 539.18,196.69 540.70,196.26 542.22,195.82 543.73,195.36 545.25,194.90 546.77,194.43 548.28,193.94 549.80,193.45 551.32,192.94 552.83,192.43 554.35,191.90 555.86,191.36 557.38,190.82 558.90,190.26 560.41,189.69 561.93,189.10 563.45,188.51 564.96,187.90 566.48,187.29 568.00,186.66 569.51,186.02 571.03,185.37 572.55,184.70 574.06,184.03 575.58,183.34 577.09,182.64 578.61,181.92 580.13,181.20 581.64,180.46 583.16,179.71 584.68,178.94 586.19,178.17 587.71,177.38 589.23,176.57 590.74,175.75 592.26,174.92 593.77,174.08 595.29,173.22 596.81,172.35 598.32,171.46 599.84,170.56 601.36,169.65 602.87,168.72 604.39,167.78 605.91,166.82 607.42,165.85 608.94,164.87 610.46,163.87 611.97,162.85 613.49,161.82 615.00,160.78 616.52,159.72 618.04,158.64 619.55,157.55 621.07,156.44 622.59,155.32 624.10,154.18 625.62,153.03 627.14,151.86 628.65,150.67 630.17,149.47 631.69,148.25 633.20,147.02 634.72,145.77 636.23,144.50 637.75,143.21 639.27,141.91 640.78,140.60 642.30,139.30 673.90,139.30" fill="none" stroke="#61D04F" stroke-width="1.0" stroke-linejoin="round"/>
<polyline points="448.20,201.21 449.72,201.12 451.23,201.02 452.75,200.92 454.27,200.83 455.78,200.73 457.30,200.64 458.81,200.55 460.33,200.45 461.85,200.36 463.36,200.27 464.88,200.17 466.40,200.08 467.91,199.98 469.43,199.89 470.94,199.79 472.46,199.69 473.98,199.60 475.49,199.50 477.01,199.40 478.53,199.30 480.04,199.20 481.56,199.09 483.07,198.99 484.59,198.88 486.11,198.77 487.62,198.66 489.14,198.55 490.66,198.43 492.17,198.32 493.69,198.20 495.21,198.08 496.72,197.95 498.24,197.83 499.75,197.70 501.27,197.57 502.79,197.43 504.30,197.29 505.82,197.15 507.34,197.01 508.85,196.86 510.37,196.71 511.88,196.55 513.40,196.39 514.92,196.23 516.43,196.06 517.95,195.89 519.47,195.71 520.98,195.53 522.50,195.35 524.01,195.16 525.53,194.97 527.05,194.77 528.56,194.56 530.08,194.36 531.60,194.14 533.11,193.92 534.63,193.70 536.15,193.47 537.66,193.23 539.18,192.99 540.69,192.75 542.21,192.49 543.73,192.24 545.24,191.97 546.76,191.70 548.28,191.42 549.79,191.14 551.31,190.85 552.82,190.55 554.34,190.25 555.86,189.94 557.37,189.62 558.89,189.29 560.41,188.96 561.92,188.62 563.44,188.28 564.95,187.92 566.47,187.56 567.99,187.19 569.50,186.81 571.02,186.42 572.54,186.03 574.05,185.63 575.57,185.22 577.09,184.80 578.60,184.37 580.12,183.93 581.63,183.49 583.15,183.03 584.67,182.57 586.18,182.10 587.70,181.61 589.22,181.12 590.73,180.62 592.25,180.10 593.76,179.58 595.28,179.03 596.80,178.48 598.31,177.91 599.83,177.32 601.35,176.71 602.86,176.09 604.38,175.44 605.89,174.78 607.41,174.10 608.93,173.39 610.44,172.66 611.96,171.91 613.48,171.13 614.99,170.33 616.51,169.50 618.03,168.65 619.54,167.76 621.06,166.85 622.57,165.90 624.09,164.93 625.61,163.92 627.12,162.89 628.64,161.81 630.16,160.71 631.67,159.56 633.19,158.38 634.70,157.17 636.22,155.91 637.74,154.62 639.25,153.29 640.77,151.91 642.29,150.50 643.80,149.04 645.32,147.54 646.83,145.99 648.35,144.40 649.87,142.76 651.38,141.08 652.90,139.30 673.90,139.30" fill="none" stroke="#CD0BBC" stroke-width="1.0" stroke-linejoin="round"/>
<polyline points="448.20,223.51 449.71,223.35 451.22,223.19 452.74,223.03 454.25,222.88 455.76,222.74 457.27,222.60 458.78,222.47 460.30,222.34 461.81,222.21 463.32,222.08 464.83,221.96 466.34,221.84 467.86,221.73 469.37,221.62 470.88,221.50 472.39,221.39 473.90,221.28 475.42,221.18 476.93,221.07 478.44,220.96 479.95,220.85 481.46,220.75 482.98,220.64 484.49,220.53 486.00,220.42 487.51,220.31 489.02,220.20 490.54,220.08 492.05,219.96 493.56,219.84 495.07,219.72 496.58,219.59 498.10,219.46 499.61,219.33 501.12,219.19 502.63,219.05 504.15,218.90 505.66,218.75 507.17,218.59 508.68,218.43 510.19,218.26 511.71,218.08 513.22,217.90 514.73,217.71 516.24,217.52 517.75,217.31 519.27,217.10 520.78,216.88 522.29,216.65 523.80,216.42 525.31,216.17 526.83,215.91 528.34,215.65 529.85,215.37 531.36,215.09 532.87,214.79 534.39,214.49 535.90,214.17 537.41,213.84 538.92,213.50 540.43,213.15 541.95,212.78 543.46,212.41 544.97,212.02 546.48,211.61 547.99,211.19 549.51,210.76 551.02,210.32 552.53,209.86 554.04,209.38 555.55,208.89 557.07,208.39 558.58,207.87 560.09,207.33 561.60,206.78 563.11,206.21 564.63,205.62 566.14,205.02 567.65,204.40 569.16,203.76 570.67,203.10 572.19,202.43 573.70,201.74 575.21,201.02 576.72,200.29 578.23,199.54 579.75,198.77 581.26,197.98 582.77,197.17 584.28,196.33 585.79,195.48 587.31,194.60 588.82,193.71 590.33,192.79 591.84,191.85 593.35,190.89 594.87,189.90 596.38,188.90 597.89,187.87 599.40,186.82 600.92,185.74 602.43,184.64 603.94,183.53 605.45,182.38 606.96,181.22 608.48,180.03 609.99,178.82 611.50,177.58 613.01,176.32 614.52,175.04 616.04,173.73 617.55,172.40 619.06,171.04 620.57,169.67 622.08,168.26 623.60,166.83 625.11,165.38 626.62,163.90 628.13,162.40 629.64,160.87 631.16,159.32 632.67,157.74 634.18,156.14 635.69,154.51 637.20,152.86 638.72,151.18 640.23,149.49 641.74,147.79 643.25,146.08 644.76,144.37 646.28,142.66 647.79,140.95 649.30,139.30 673.90,139.30" fill="none" stroke="#2297E6" stroke-width="1.0" stroke-linejoin="round"/>
<polyline points="448.20,209.49 449.71,209.51 451.23,209.53 452.74,209.55 454.26,209.55 455.77,209.56 457.29,209.56 458.80,209.56 460.32,209.55 461.83,209.53 463.35,209.52 464.86,209.50 466.38,209.47 467.89,209.44 469.41,209.41 470.92,209.37 472.44,209.33 473.95,209.29 475.47,209.24 476.98,209.18 478.50,209.13 480.01,209.07 481.52,209.00 483.04,208.94 484.55,208.87 486.07,208.79 487.58,208.71 489.10,208.63 490.61,208.55 492.13,208.46 493.64,208.37 495.16,208.27 496.67,208.17 498.19,208.07 499.70,207.97 501.22,207.86 502.73,207.75 504.25,207.64 505.76,207.52 507.28,207.40 508.79,207.28 510.31,207.16 511.82,207.03 513.33,206.90 514.85,206.77 516.36,206.63 517.88,206.49 519.39,206.35 520.91,206.21 522.42,206.06 523.94,205.91 525.45,205.76 526.97,205.61 528.48,205.46 530.00,205.30 531.51,205.14 533.03,204.98 534.54,204.81 536.06,204.65 537.57,204.48 539.09,204.31 540.60,204.14 542.12,203.97 543.63,203.79 545.14,203.61 546.66,203.43 548.17,203.25 549.69,203.07 551.20,202.89 552.72,202.70 554.23,202.52 555.75,202.33 557.26,202.14 558.78,201.95 560.29,201.75 561.81,201.56 563.32,201.36 564.84,201.17 566.35,200.97 567.87,200.77 569.38,200.57 570.90,200.37 572.41,200.17 573.93,199.97 575.44,199.76 576.96,199.56 578.47,199.35 579.98,199.15 581.50,198.94 583.01,198.73 584.53,198.53 586.04,198.32 587.56,198.11 589.07,197.90 590.59,197.68 592.10,197.46 593.62,197.24 595.13,197.01 596.65,196.77 598.16,196.52 599.68,196.26 601.19,195.99 602.71,195.70 604.22,195.40 605.74,195.08 607.25,194.75 608.77,194.39 610.28,194.02 611.79,193.62 613.31,193.20 614.82,192.75 616.34,192.28 617.85,191.78 619.37,191.26 620.88,190.70 622.40,190.11 623.91,189.49 625.43,188.84 626.94,188.15 628.46,187.42 629.97,186.66 631.49,185.85 633.00,185.01 634.52,184.12 636.03,183.19 637.55,182.22 639.06,181.20 640.58,180.13 642.09,179.02 643.60,177.85 645.12,176.63 646.63,175.36 648.15,174.03 649.66,172.65 651.18,171.22 652.69,169.72 654.21,168.16 655.72,166.53 657.24,164.82 658.75,163.03 660.27,161.16 661.78,159.19 663.30,157.12 664.81,154.94 666.33,152.65 667.84,150.25 669.36,147.72 670.87,145.07 672.39,142.28 673.90,139.30" fill="none" stroke="#000000" stroke-width="1.0" stroke-linejoin="round"/>
<polyline points="448.20,117.90 449.73,118.05 451.26,118.22 452.79,118.39 454.32,118.57 455.85,118.76 457.38,118.96 458.91,119.18 460.44,119.40 461.97,119.63 463.50,119.87 465.03,120.11 466.56,120.37 468.09,120.64 469.61,120.92 471.14,121.20 472.67,121.50 474.20,121.81 475.73,122.12 477.26,122.44 478.79,122.78 480.32,123.12 481.85,123.47 483.38,123.83 484.91,124.20 486.44,124.57 487.97,124.96 489.50,125.36 491.03,125.76 492.56,126.17 494.09,126.60 495.62,127.03 497.15,127.47 498.68,127.92 500.21,128.37 501.74,128.84 503.27,129.32 504.80,129.80 506.33,130.29 507.86,130.79 509.39,131.30 510.91,131.82 512.44,132.34 513.97,132.88 515.50,133.42 517.03,133.97 518.56,134.53 520.09,135.10 521.62,135.68 523.15,136.26 524.68,136.85 526.21,137.45 527.74,138.06 529.27,138.68 530.80,139.30 673.90,139.30" fill="none" stroke="#CD0BBC" stroke-width="1.0" stroke-linejoin="round"/>
<line x1="530.80" y1="139.30" x2="651.00" y2="139.30" stroke="#CD0BBC" stroke-width="1.0" />
<line x1="651.00" y1="139.30" x2="673.90" y2="139.30" stroke="#000" stroke-width="1.0" />
</g>
<line x1="563.50" y1="25.50" x2="563.50" y2="231.50" stroke="#808080" stroke-width="1.2" stroke-dasharray="5.6 5.3 1 5.4" stroke-dashoffset="13.4"/>
<rect x="377.2" y="280.00" width="44.80" height="9.2" fill="#2f5091"/>
<rect x="377.2" y="291.55" width="30.80" height="9.2" fill="#2f5091"/>
<circle cx="413.6" cy="296.15" r="5.1" fill="#2f5091"/>
<rect x="377.2" y="303.10" width="25.80" height="9.2" fill="#2f5091"/>
<circle cx="414.3" cy="307.70" r="5.1" fill="#2f5091"/>
<rect x="377.2" y="314.65" width="18.80" height="9.2" fill="#2f5091"/>
<circle cx="406.9" cy="319.25" r="5.1" fill="#2f5091"/>
<rect x="377.2" y="326.20" width="17.50" height="9.2" fill="#2f5091"/>
<circle cx="408.7" cy="330.80" r="5.1" fill="#2f5091"/>
<rect x="377.2" y="337.75" width="8.60" height="9.2" fill="#2f5091"/>
<circle cx="413.0" cy="342.35" r="5.1" fill="#2f5091"/>
<rect x="377.2" y="349.30" width="3.80" height="9.2" fill="#2f5091"/>
<circle cx="421.8" cy="353.90" r="5.1" fill="#2f5091"/>
<rect x="377.2" y="360.85" width="1.60" height="9.2" fill="#2f5091"/>
<circle cx="419.5" cy="365.45" r="5.1" fill="#2f5091"/>
<rect x="367.0" y="372.40" width="10.20" height="9.2" fill="#dbc330"/>
<circle cx="340.9" cy="377.00" r="5.1" fill="#dbc330"/>
<rect x="364.3" y="383.95" width="12.90" height="9.2" fill="#dbc330"/>
<circle cx="322.7" cy="388.55" r="5.1" fill="#dbc330"/>
<rect x="361.2" y="395.50" width="16.00" height="9.2" fill="#dbc330"/>
<circle cx="339.7" cy="400.10" r="5.1" fill="#dbc330"/>
<rect x="357.2" y="407.05" width="20.00" height="9.2" fill="#dbc330"/>
<circle cx="335.3" cy="411.65" r="5.1" fill="#dbc330"/>
<rect x="354.9" y="418.60" width="22.30" height="9.2" fill="#dbc330"/>
<circle cx="343.5" cy="423.20" r="5.1" fill="#dbc330"/>
<rect x="350.0" y="430.15" width="27.20" height="9.2" fill="#dbc330"/>
<circle cx="332.7" cy="434.75" r="5.1" fill="#dbc330"/>
<rect x="350.0" y="441.70" width="27.20" height="9.2" fill="#dbc330"/>
<circle cx="343.5" cy="446.30" r="5.1" fill="#dbc330"/>
<rect x="342.8" y="453.25" width="34.40" height="9.2" fill="#dbc330"/>
<circle cx="305.4" cy="457.85" r="5.1" fill="#dbc330"/>
<rect x="340.0" y="464.80" width="37.20" height="9.2" fill="#dbc330"/>
<circle cx="332.7" cy="469.40" r="5.1" fill="#dbc330"/>
<text x="325.45" y="288.40" font-size="12.40" textLength="42.84" lengthAdjust="spacingAndGlyphs" fill="#000" font-family='"Liberation Sans", sans-serif' font-weight="normal" >Nisaea</text>
<text x="305.55" y="299.95" font-size="12.40" textLength="62.76" lengthAdjust="spacingAndGlyphs" fill="#000" font-family='"Liberation Sans", sans-serif' font-weight="normal" >Legionella</text>
<text x="291.52" y="311.50" font-size="12.40" textLength="77.28" lengthAdjust="spacingAndGlyphs" fill="#000" font-family='"Liberation Sans", sans-serif' font-weight="normal" >Tepidimonas</text>
<text x="301.48" y="323.05" font-size="12.40" textLength="67.32" lengthAdjust="spacingAndGlyphs" fill="#000" font-family='"Liberation Sans", sans-serif' font-weight="normal" >Terriglobus</text>
<text x="293.33" y="334.60" font-size="12.40" textLength="74.97" lengthAdjust="spacingAndGlyphs" fill="#000" font-family='"Liberation Sans", sans-serif' font-weight="normal" >Tateyamaria</text>
<text x="314.74" y="346.15" font-size="12.40" textLength="53.56" lengthAdjust="spacingAndGlyphs" fill="#000" font-family='"Liberation Sans", sans-serif' font-weight="normal" >Spirulina</text>
<text x="310.15" y="357.70" font-size="12.40" textLength="58.15" lengthAdjust="spacingAndGlyphs" fill="#000" font-family='"Liberation Sans", sans-serif' font-weight="normal" >Lawsonia</text>
<text x="286.18" y="369.25" font-size="12.40" textLength="82.61" lengthAdjust="spacingAndGlyphs" fill="#000" font-family='"Liberation Sans", sans-serif' font-weight="normal" >Polyomavirus</text>
<text x="384.87" y="380.80" font-size="12.40" textLength="39.79" lengthAdjust="spacingAndGlyphs" fill="#000" font-family='"Liberation Sans", sans-serif' font-weight="normal" >Rothia</text>
<text x="384.87" y="392.35" font-size="12.40" textLength="75.74" lengthAdjust="spacingAndGlyphs" fill="#000" font-family='"Liberation Sans", sans-serif' font-weight="normal" >Hylemonella</text>
<text x="384.87" y="403.90" font-size="12.40" textLength="68.86" lengthAdjust="spacingAndGlyphs" fill="#000" font-family='"Liberation Sans", sans-serif' font-weight="normal" >Pasteurella</text>
<text x="384.87" y="415.45" font-size="12.40" textLength="43.62" lengthAdjust="spacingAndGlyphs" fill="#000" font-family='"Liberation Sans", sans-serif' font-weight="normal" >Ruania</text>
<text x="385.97" y="427.00" font-size="12.40" textLength="123.18" lengthAdjust="spacingAndGlyphs" fill="#000" font-family='"Liberation Sans", sans-serif' font-weight="normal" >Alphapapillomavirus</text>
<text x="384.87" y="438.55" font-size="12.40" textLength="82.60" lengthAdjust="spacingAndGlyphs" fill="#000" font-family='"Liberation Sans", sans-serif' font-weight="normal" >Fimbriimonas</text>
<text x="385.70" y="450.10" font-size="12.40" textLength="91.03" lengthAdjust="spacingAndGlyphs" fill="#000" font-family='"Liberation Sans", sans-serif' font-weight="normal" >Thioalkalivibrio</text>
<text x="384.87" y="461.65" font-size="12.40" textLength="72.67" lengthAdjust="spacingAndGlyphs" fill="#000" font-family='"Liberation Sans", sans-serif' font-weight="normal" >Brachyspira</text>
<text x="384.87" y="473.20" font-size="12.40" textLength="86.45" lengthAdjust="spacingAndGlyphs" fill="#000" font-family='"Liberation Sans", sans-serif' font-weight="normal" >Methylobacter</text>
<line x1="219.60" y1="482.70" x2="639.50" y2="482.70" stroke="#222" stroke-width="1" />
<line x1="219.60" y1="482.70" x2="219.60" y2="486.50" stroke="#222" stroke-width="1" />
<line x1="245.84" y1="482.70" x2="245.84" y2="486.50" stroke="#222" stroke-width="1" />
<line x1="272.08" y1="482.70" x2="272.08" y2="486.50" stroke="#222" stroke-width="1" />
<line x1="298.32" y1="482.70" x2="298.32" y2="486.50" stroke="#222" stroke-width="1" />
<line x1="324.56" y1="482.70" x2="324.56" y2="486.50" stroke="#222" stroke-width="1" />
<line x1="350.80" y1="482.70" x2="350.80" y2="486.50" stroke="#222" stroke-width="1" />
<line x1="377.04" y1="482.70" x2="377.04" y2="486.50" stroke="#222" stroke-width="1" />
<line x1="403.28" y1="482.70" x2="403.28" y2="486.50" stroke="#222" stroke-width="1" />
<line x1="429.52" y1="482.70" x2="429.52" y2="486.50" stroke="#222" stroke-width="1" />
<line x1="455.76" y1="482.70" x2="455.76" y2="486.50" stroke="#222" stroke-width="1" />
<line x1="482.00" y1="482.70" x2="482.00" y2="486.50" stroke="#222" stroke-width="1" />
<line x1="508.24" y1="482.70" x2="508.24" y2="486.50" stroke="#222" stroke-width="1" />
<line x1="534.48" y1="482.70" x2="534.48" y2="486.50" stroke="#222" stroke-width="1" />
<line x1="560.72" y1="482.70" x2="560.72" y2="486.50" stroke="#222" stroke-width="1" />
<line x1="586.96" y1="482.70" x2="586.96" y2="486.50" stroke="#222" stroke-width="1" />
<line x1="613.20" y1="482.70" x2="613.20" y2="486.50" stroke="#222" stroke-width="1" />
<line x1="639.44" y1="482.70" x2="639.44" y2="486.50" stroke="#222" stroke-width="1" />
<text x="206.13" y="500.00" font-size="11.60" textLength="26.95" lengthAdjust="spacingAndGlyphs" fill="#000" font-family='"Liberation Sans", sans-serif' font-weight="normal" >−1.2</text>
<text x="262.46" y="500.00" font-size="11.60" textLength="18.61" lengthAdjust="spacingAndGlyphs" fill="#000" font-family='"Liberation Sans", sans-serif' font-weight="normal" >−.8</text>
<text x="315.05" y="500.00" font-size="11.60" textLength="18.73" lengthAdjust="spacingAndGlyphs" fill="#000" font-family='"Liberation Sans", sans-serif' font-weight="normal" >−.4</text>
<text x="373.61" y="500.00" font-size="11.60" textLength="6.98" lengthAdjust="spacingAndGlyphs" fill="#000" font-family='"Liberation Sans", sans-serif' font-weight="normal" >0</text>
<text x="397.35" y="500.00" font-size="11.60" textLength="11.43" lengthAdjust="spacingAndGlyphs" fill="#000" font-family='"Liberation Sans", sans-serif' font-weight="normal" >.2</text>
<text x="422.94" y="500.00" font-size="11.60" textLength="12.50" lengthAdjust="spacingAndGlyphs" fill="#000" font-family='"Liberation Sans", sans-serif' font-weight="normal" >.4</text>
<text x="449.21" y="500.00" font-size="11.60" textLength="12.77" lengthAdjust="spacingAndGlyphs" fill="#000" font-family='"Liberation Sans", sans-serif' font-weight="normal" >.6</text>
<text x="475.51" y="500.00" font-size="11.60" textLength="12.75" lengthAdjust="spacingAndGlyphs" fill="#000" font-family='"Liberation Sans", sans-serif' font-weight="normal" >.8</text>
<text x="505.19" y="500.00" font-size="11.60" textLength="5.94" lengthAdjust="spacingAndGlyphs" fill="#000" font-family='"Liberation Sans", sans-serif' font-weight="normal" >1</text>
<text x="525.68" y="500.00" font-size="11.60" textLength="18.70" lengthAdjust="spacingAndGlyphs" fill="#000" font-family='"Liberation Sans", sans-serif' font-weight="normal" >1.2</text>
<text x="578.31" y="500.00" font-size="11.60" textLength="18.06" lengthAdjust="spacingAndGlyphs" fill="#000" font-family='"Liberation Sans", sans-serif' font-weight="normal" >1.6</text>
<text x="635.79" y="500.00" font-size="11.60" textLength="7.93" lengthAdjust="spacingAndGlyphs" fill="#000" font-family='"Liberation Sans", sans-serif' font-weight="normal" >2</text>
<rect x="530" y="453.4" width="9" height="7.3" fill="#000"/>
<circle cx="534.6" cy="467" r="4.8" fill="#000"/>
<text x="542.69" y="460.00" font-size="11.00" textLength="65.70" lengthAdjust="spacingAndGlyphs" fill="#000" font-family='"Liberation Sans", sans-serif' font-weight="normal" >Coefficient</text>
<text x="542.44" y="469.90" font-size="11.20" textLength="57.25" lengthAdjust="spacingAndGlyphs" fill="#000" font-family='"Liberation Sans", sans-serif' font-weight="normal" >log2(HR)</text>
<line x1="115.10" y1="514.10" x2="115.10" y2="677.50" stroke="#555" stroke-width="1.1" />
<line x1="111.90" y1="677.50" x2="115.10" y2="677.50" stroke="#555" stroke-width="1.1" />
<text x="95.56" y="681.20" font-size="10.30" textLength="15.79" lengthAdjust="spacingAndGlyphs" fill="#000" font-family='"Liberation Sans", sans-serif' font-weight="normal" >0.0</text>
<line x1="111.90" y1="644.82" x2="115.10" y2="644.82" stroke="#555" stroke-width="1.1" />
<text x="95.55" y="648.52" font-size="10.30" textLength="15.92" lengthAdjust="spacingAndGlyphs" fill="#000" font-family='"Liberation Sans", sans-serif' font-weight="normal" >0.2</text>
<line x1="111.90" y1="612.14" x2="115.10" y2="612.14" stroke="#555" stroke-width="1.1" />
<text x="95.56" y="615.84" font-size="10.30" textLength="15.67" lengthAdjust="spacingAndGlyphs" fill="#000" font-family='"Liberation Sans", sans-serif' font-weight="normal" >0.4</text>
<line x1="111.90" y1="579.46" x2="115.10" y2="579.46" stroke="#555" stroke-width="1.1" />
<text x="95.56" y="583.16" font-size="10.30" textLength="15.85" lengthAdjust="spacingAndGlyphs" fill="#000" font-family='"Liberation Sans", sans-serif' font-weight="normal" >0.6</text>
<line x1="111.90" y1="546.78" x2="115.10" y2="546.78" stroke="#555" stroke-width="1.1" />
<text x="95.56" y="550.48" font-size="10.30" textLength="15.84" lengthAdjust="spacingAndGlyphs" fill="#000" font-family='"Liberation Sans", sans-serif' font-weight="normal" >0.8</text>
<line x1="111.90" y1="514.10" x2="115.10" y2="514.10" stroke="#555" stroke-width="1.1" />
<text x="95.11" y="517.80" font-size="10.30" textLength="16.25" lengthAdjust="spacingAndGlyphs" fill="#000" font-family='"Liberation Sans", sans-serif' font-weight="normal" >1.0</text>
<line x1="122.40" y1="683.70" x2="284.00" y2="683.70" stroke="#555" stroke-width="1.1" />
<line x1="122.40" y1="683.70" x2="122.40" y2="687.10" stroke="#555" stroke-width="1.1" />
<text x="119.67" y="697.90" font-size="10.30" textLength="5.47" lengthAdjust="spacingAndGlyphs" fill="#000" font-family='"Liberation Sans", sans-serif' font-weight="normal" >0</text>
<line x1="176.27" y1="683.70" x2="176.27" y2="687.10" stroke="#555" stroke-width="1.1" />
<text x="170.61" y="697.90" font-size="10.30" textLength="11.31" lengthAdjust="spacingAndGlyphs" fill="#000" font-family='"Liberation Sans", sans-serif' font-weight="normal" >50</text>
<line x1="230.14" y1="683.70" x2="230.14" y2="687.10" stroke="#555" stroke-width="1.1" />
<text x="221.41" y="697.90" font-size="10.30" textLength="17.08" lengthAdjust="spacingAndGlyphs" fill="#000" font-family='"Liberation Sans", sans-serif' font-weight="normal" >100</text>
<line x1="284.01" y1="683.70" x2="284.01" y2="687.10" stroke="#555" stroke-width="1.1" />
<text x="275.28" y="697.90" font-size="10.30" textLength="17.08" lengthAdjust="spacingAndGlyphs" fill="#000" font-family='"Liberation Sans", sans-serif' font-weight="normal" >150</text>
<text x="185.06" y="718.60" font-size="11.00" textLength="69.92" lengthAdjust="spacingAndGlyphs" fill="#000" font-family='"Liberation Sans", sans-serif' font-weight="normal" >Time (Months)</text>
<text transform="translate(87.90,631.80) rotate(-90)" x="-0.51" y="0" font-size="10.60" textLength="74.14" lengthAdjust="spacingAndGlyphs" fill="#000" font-family='"Liberation Sans", sans-serif' font-weight="normal">Overall survival</text>
<text x="128.71" y="671.50" font-size="10.80" textLength="46.83" lengthAdjust="spacingAndGlyphs" fill="#000" font-family='"Liberation Sans", sans-serif' font-weight="normal" >P &lt; 0.001</text>
<text x="287.28" y="521.90" font-size="10.80" textLength="22.61" lengthAdjust="spacingAndGlyphs" fill="#000" font-family='"Liberation Sans", sans-serif' font-weight="bold" >Risk</text>
<text x="285.25" y="533.90" font-size="10.80" textLength="21.21" lengthAdjust="spacingAndGlyphs" fill="#d9bc25" font-family='"Liberation Sans", sans-serif' font-weight="normal" >High</text>
<text x="285.28" y="545.70" font-size="10.80" textLength="18.30" lengthAdjust="spacingAndGlyphs" fill="#3f76ca" font-family='"Liberation Sans", sans-serif' font-weight="normal" >Low</text>
<polyline points="122.40,514.10 123.05,514.10 123.05,515.45 123.70,515.45 123.70,516.80 123.90,516.80 123.90,518.55 124.10,518.55 124.10,520.30 124.55,520.30 124.55,522.05 125.00,522.05 125.00,523.80 125.30,523.80 125.30,525.23 125.60,525.23 125.60,526.67 125.90,526.67 125.90,528.10 126.35,528.10 126.35,529.85 126.80,529.85 126.80,531.60 127.45,531.60 127.45,533.40 128.10,533.40 128.10,535.20 128.75,535.20 128.75,536.95 129.40,536.95 129.40,538.70 130.05,538.70 130.05,540.45 130.70,540.45 130.70,542.20 131.13,542.20 131.13,543.63 131.57,543.63 131.57,545.07 132.00,545.07 132.00,546.50 132.40,546.50 132.40,548.12 132.80,548.12 132.80,549.74 133.20,549.74 133.20,551.36 133.60,551.36 133.60,552.98 134.00,552.98 134.00,554.60 134.35,554.60 134.35,556.08 134.70,556.08 134.70,557.55 135.05,557.55 135.05,559.02 135.40,559.02 135.40,560.50 135.52,560.50 135.52,562.08 135.63,562.08 135.63,563.67 135.75,563.67 135.75,565.25 135.87,565.25 135.87,566.83 135.98,566.83 135.98,568.42 136.10,568.42 136.10,570.00 136.45,570.00 136.45,571.45 136.80,571.45 136.80,572.90 137.15,572.90 137.15,574.35 137.50,574.35 137.50,575.80 137.88,575.80 137.88,577.27 138.25,577.27 138.25,578.75 138.62,578.75 138.62,580.23 139.00,580.23 139.00,581.70 139.72,581.70 139.72,583.15 140.45,583.15 140.45,584.60 141.18,584.60 141.18,586.05 141.90,586.05 141.90,587.50 142.28,587.50 142.28,588.98 142.65,588.98 142.65,590.45 143.03,590.45 143.03,591.92 143.40,591.92 143.40,593.40 143.75,593.40 143.75,594.85 144.10,594.85 144.10,596.30 144.45,596.30 144.45,597.75 144.80,597.75 144.80,599.20 145.53,599.20 145.53,600.65 146.25,600.65 146.25,602.10 146.97,602.10 146.97,603.55 147.70,603.55 147.70,605.00 148.25,605.00 148.25,606.48 148.80,606.48 148.80,607.95 149.35,607.95 149.35,609.42 149.90,609.42 149.90,610.90 150.45,610.90 150.45,612.35 151.00,612.35 151.00,613.80 151.55,613.80 151.55,615.25 152.10,615.25 152.10,616.70 153.07,616.70 153.07,618.17 154.03,618.17 154.03,619.63 155.00,619.63 155.00,621.10 156.47,621.10 156.47,622.57 157.93,622.57 157.93,624.03 159.40,624.03 159.40,625.50 160.37,625.50 160.37,626.97 161.33,626.97 161.33,628.43 162.30,628.43 162.30,629.90 163.78,629.90 163.78,630.25 165.25,630.25 165.25,630.60 166.72,630.60 166.72,630.95 168.20,630.95 168.20,631.30 169.65,631.30 169.65,631.67 171.10,631.67 171.10,632.05 172.55,632.05 172.55,632.42 174.00,632.42 174.00,632.80 174.75,632.80 174.75,634.60 175.50,634.60 175.50,636.40 176.97,636.40 176.97,636.67 178.43,636.67 178.43,636.93 179.90,636.93 179.90,637.20 180.87,637.20 180.87,638.63 181.83,638.63 181.83,640.07 182.80,640.07 182.80,641.50 183.50,641.50 183.50,643.00 184.20,643.00 184.20,644.50 184.20,648.10 198.80,648.10 198.80,651.80 218.90,651.80 218.90,662.50 288.40,662.50 288.40,669.90 290.80,669.90 290.80,677.50" fill="none" stroke="#d9bc25" stroke-width="1.3" />
<polyline points="122.40,514.10 124.60,514.10 126.80,514.10 126.80,515.00 127.90,515.00 127.90,516.75 129.00,516.75 129.00,518.50 129.70,518.50 129.70,519.97 130.40,519.97 130.40,521.43 131.10,521.43 131.10,522.90 132.20,522.90 132.20,524.65 133.30,524.65 133.30,526.40 134.40,526.40 134.40,528.15 135.50,528.15 135.50,529.90 136.80,529.90 136.80,531.65 138.10,531.65 138.10,533.40 139.45,533.40 139.45,534.70 140.80,534.70 140.80,536.00 142.55,536.00 142.55,537.75 144.30,537.75 144.30,539.50 146.05,539.50 146.05,540.85 147.80,540.85 147.80,542.20 149.55,542.20 149.55,543.05 151.30,543.05 151.30,543.90 153.50,543.90 153.50,543.80 155.25,543.80 155.25,545.10 157.00,545.10 157.00,546.40 158.30,546.40 158.30,547.95 159.60,547.95 159.60,549.50 160.95,549.50 160.95,550.80 162.30,550.80 162.30,552.10 162.70,552.10 162.70,553.85 163.10,553.85 163.10,555.60 163.80,555.60 163.80,556.90 164.50,556.90 164.50,558.20 183.30,558.20 183.30,564.30 193.80,564.30 193.80,573.10 294.10,573.10 294.10,598.80 304.70,598.80 304.70,625.20 319.60,625.20" fill="none" stroke="#3f76ca" stroke-width="1.3" />
<path d="M118.00,515.90H125.00M121.50,512.40V519.40M122.80,528.60H129.80M126.30,525.10V532.10M124.00,528.60H131.00M127.50,525.10V532.10M126.80,541.70H133.80M130.30,538.20V545.20M130.50,554.60H137.50M134.00,551.10V558.10M131.90,564.00H138.90M135.40,560.50V567.50M135.60,581.60H142.60M139.10,578.10V585.10M135.50,582.40H142.50M139.00,578.90V585.90M138.40,591.90H145.40M141.90,588.40V595.40M139.00,590.00H146.00M142.50,586.50V593.50M142.80,603.60H149.80M146.30,600.10V607.10M144.00,604.50H151.00M147.50,601.00V608.00M145.70,608.70H152.70M149.20,605.20V612.20M147.50,612.60H154.50M151.00,609.10V616.10M150.10,619.60H157.10M153.60,616.10V623.10M153.00,621.80H160.00M156.50,618.30V625.30M155.00,624.50H162.00M158.50,621.00V628.00M159.60,629.90H166.60M163.10,626.40V633.40M161.00,630.50H168.00M164.50,627.00V634.00M165.40,632.00H172.40M168.90,628.50V635.50M173.20,636.60H180.20M176.70,633.10V640.10M174.90,637.20H181.90M178.40,633.70V640.70M176.40,637.90H183.40M179.90,634.40V641.40M177.70,638.50H184.70M181.20,635.00V642.00M195.50,648.10H202.50M199.00,644.60V651.60M212.40,651.80H219.40M215.90,648.30V655.30M239.00,662.50H246.00M242.50,659.00V666.00" stroke="#d9bc25" stroke-width="1.1" fill="none"/>
<path d="M121.10,513.80H128.10M124.60,510.30V517.30M124.00,516.40H131.00M127.50,512.90V519.90M127.50,522.00H134.50M131.00,518.50V525.50M128.70,523.50H135.70M132.20,520.00V527.00M131.00,528.00H138.00M134.50,524.50V531.50M133.50,531.50H140.50M137.00,528.00V535.00M135.00,533.50H142.00M138.50,530.00V537.00M136.50,534.80H143.50M140.00,531.30V538.30M138.00,536.50H145.00M141.50,533.00V540.00M139.50,538.00H146.50M143.00,534.50V541.50M141.50,540.00H148.50M145.00,536.50V543.50M143.00,541.00H150.00M146.50,537.50V544.50M144.50,542.20H151.50M148.00,538.70V545.70M146.50,543.00H153.50M150.00,539.50V546.50M148.50,543.80H155.50M152.00,540.30V547.30M151.50,545.00H158.50M155.00,541.50V548.50M152.50,545.80H159.50M156.00,542.30V549.30M155.00,547.50H162.00M158.50,544.00V551.00M155.70,555.60H162.70M159.20,552.10V559.10M162.70,558.20H169.70M166.20,554.70V561.70M164.00,558.20H171.00M167.50,554.70V561.70M166.60,558.20H173.60M170.10,554.70V561.70M169.70,558.20H176.70M173.20,554.70V561.70M171.90,558.20H178.90M175.40,554.70V561.70M175.00,558.20H182.00M178.50,554.70V561.70M178.50,558.20H185.50M182.00,554.70V561.70M180.20,564.30H187.20M183.70,560.80V567.80M182.00,564.30H189.00M185.50,560.80V567.80M184.20,564.30H191.20M187.70,560.80V567.80M186.40,564.30H193.40M189.90,560.80V567.80M189.90,564.30H196.90M193.40,560.80V567.80M196.40,573.10H203.40M199.90,569.60V576.60M198.20,573.10H205.20M201.70,569.60V576.60M199.50,573.10H206.50M203.00,569.60V576.60M201.20,573.10H208.20M204.70,569.60V576.60M270.50,573.10H277.50M274.00,569.60V576.60M304.70,625.20H311.70M308.20,621.70V628.70M312.90,625.20H319.90M316.40,621.70V628.70" stroke="#3f76ca" stroke-width="1.1" fill="none"/>
<line x1="445.70" y1="519.90" x2="445.70" y2="684.40" stroke="#555" stroke-width="1.1" />
<line x1="442.30" y1="684.40" x2="445.70" y2="684.40" stroke="#555" stroke-width="1.1" />
<text x="425.96" y="688.00" font-size="10.30" textLength="15.79" lengthAdjust="spacingAndGlyphs" fill="#000" font-family='"Liberation Sans", sans-serif' font-weight="normal" >0.0</text>
<line x1="442.30" y1="651.50" x2="445.70" y2="651.50" stroke="#555" stroke-width="1.1" />
<text x="425.95" y="655.10" font-size="10.30" textLength="15.92" lengthAdjust="spacingAndGlyphs" fill="#000" font-family='"Liberation Sans", sans-serif' font-weight="normal" >0.2</text>
<line x1="442.30" y1="618.60" x2="445.70" y2="618.60" stroke="#555" stroke-width="1.1" />
<text x="425.96" y="622.20" font-size="10.30" textLength="15.67" lengthAdjust="spacingAndGlyphs" fill="#000" font-family='"Liberation Sans", sans-serif' font-weight="normal" >0.4</text>
<line x1="442.30" y1="585.70" x2="445.70" y2="585.70" stroke="#555" stroke-width="1.1" />
<text x="425.96" y="589.30" font-size="10.30" textLength="15.85" lengthAdjust="spacingAndGlyphs" fill="#000" font-family='"Liberation Sans", sans-serif' font-weight="normal" >0.6</text>
<line x1="442.30" y1="552.80" x2="445.70" y2="552.80" stroke="#555" stroke-width="1.1" />
<text x="425.96" y="556.40" font-size="10.30" textLength="15.84" lengthAdjust="spacingAndGlyphs" fill="#000" font-family='"Liberation Sans", sans-serif' font-weight="normal" >0.8</text>
<line x1="442.30" y1="519.90" x2="445.70" y2="519.90" stroke="#555" stroke-width="1.1" />
<text x="425.51" y="523.50" font-size="10.30" textLength="16.25" lengthAdjust="spacingAndGlyphs" fill="#000" font-family='"Liberation Sans", sans-serif' font-weight="normal" >1.0</text>
<line x1="453.30" y1="691.10" x2="633.40" y2="691.10" stroke="#555" stroke-width="1.1" />
<line x1="453.30" y1="691.10" x2="453.30" y2="694.50" stroke="#555" stroke-width="1.1" />
<text x="450.57" y="705.70" font-size="10.30" textLength="5.47" lengthAdjust="spacingAndGlyphs" fill="#000" font-family='"Liberation Sans", sans-serif' font-weight="normal" >0</text>
<line x1="483.32" y1="691.10" x2="483.32" y2="694.50" stroke="#555" stroke-width="1.1" />
<text x="477.67" y="705.70" font-size="10.30" textLength="11.20" lengthAdjust="spacingAndGlyphs" fill="#000" font-family='"Liberation Sans", sans-serif' font-weight="normal" >20</text>
<line x1="513.34" y1="691.10" x2="513.34" y2="694.50" stroke="#555" stroke-width="1.1" />
<text x="507.96" y="705.70" font-size="10.30" textLength="10.91" lengthAdjust="spacingAndGlyphs" fill="#000" font-family='"Liberation Sans", sans-serif' font-weight="normal" >40</text>
<line x1="543.36" y1="691.10" x2="543.36" y2="694.50" stroke="#555" stroke-width="1.1" />
<text x="537.70" y="705.70" font-size="10.30" textLength="11.21" lengthAdjust="spacingAndGlyphs" fill="#000" font-family='"Liberation Sans", sans-serif' font-weight="normal" >60</text>
<line x1="573.38" y1="691.10" x2="573.38" y2="694.50" stroke="#555" stroke-width="1.1" />
<text x="567.80" y="705.70" font-size="10.30" textLength="11.12" lengthAdjust="spacingAndGlyphs" fill="#000" font-family='"Liberation Sans", sans-serif' font-weight="normal" >80</text>
<line x1="603.40" y1="691.10" x2="603.40" y2="694.50" stroke="#555" stroke-width="1.1" />
<text x="594.67" y="705.70" font-size="10.30" textLength="17.08" lengthAdjust="spacingAndGlyphs" fill="#000" font-family='"Liberation Sans", sans-serif' font-weight="normal" >100</text>
<line x1="633.42" y1="691.10" x2="633.42" y2="694.50" stroke="#555" stroke-width="1.1" />
<text x="624.69" y="705.70" font-size="10.30" textLength="17.08" lengthAdjust="spacingAndGlyphs" fill="#000" font-family='"Liberation Sans", sans-serif' font-weight="normal" >120</text>
<text x="516.56" y="726.30" font-size="11.00" textLength="70.63" lengthAdjust="spacingAndGlyphs" fill="#000" font-family='"Liberation Sans", sans-serif' font-weight="normal" >Time (Months)</text>
<text transform="translate(418.20,638.60) rotate(-90)" x="-0.52" y="0" font-size="10.60" textLength="75.05" lengthAdjust="spacingAndGlyphs" fill="#000" font-family='"Liberation Sans", sans-serif' font-weight="normal">Overall survival</text>
<text x="459.39" y="678.90" font-size="10.80" textLength="47.86" lengthAdjust="spacingAndGlyphs" fill="#000" font-family='"Liberation Sans", sans-serif' font-weight="normal" >P = 0.001</text>
<text x="619.77" y="528.10" font-size="10.80" textLength="23.02" lengthAdjust="spacingAndGlyphs" fill="#000" font-family='"Liberation Sans", sans-serif' font-weight="bold" >Risk</text>
<text x="617.65" y="539.80" font-size="10.80" textLength="21.32" lengthAdjust="spacingAndGlyphs" fill="#d9bc25" font-family='"Liberation Sans", sans-serif' font-weight="normal" >High</text>
<text x="617.69" y="551.60" font-size="10.80" textLength="18.09" lengthAdjust="spacingAndGlyphs" fill="#3f76ca" font-family='"Liberation Sans", sans-serif' font-weight="normal" >Low</text>
<polyline points="453.30,519.90 456.60,519.90 458.50,519.90 458.50,520.80 458.95,520.80 458.95,522.55 459.40,522.55 459.40,524.30 459.60,524.30 459.60,526.45 459.80,526.45 459.80,528.60 460.45,528.60 460.45,530.35 461.10,530.35 461.10,532.10 463.30,532.10 463.30,534.30 463.75,534.30 463.75,536.30 464.20,536.30 464.20,538.30 465.10,538.30 465.10,540.05 466.00,540.05 466.00,541.80 467.30,541.80 467.30,544.80 469.00,544.80 469.00,547.90 469.65,547.90 469.65,549.70 470.30,549.70 470.30,551.50 470.47,551.50 470.47,553.37 470.63,553.37 470.63,555.23 470.80,555.23 470.80,557.10 470.94,557.10 470.94,559.34 471.08,559.34 471.08,561.58 471.22,561.58 471.22,563.82 471.36,563.82 471.36,566.06 471.50,566.06 471.50,568.30 473.35,568.30 473.35,570.75 475.20,570.75 475.20,573.20 475.63,573.20 475.63,575.27 476.07,575.27 476.07,577.33 476.50,577.33 476.50,579.40 477.00,579.40 477.00,581.40 477.50,581.40 477.50,583.40 478.00,583.40 478.00,585.40 478.50,585.40 478.50,587.40 479.00,587.40 479.00,589.40 480.23,589.40 480.23,591.47 481.47,591.47 481.47,593.53 482.70,593.53 482.70,595.60 483.53,595.60 483.53,597.67 484.37,597.67 484.37,599.73 485.20,599.73 485.20,601.80 486.50,601.80 486.50,602.80 501.70,602.80 501.70,611.20 504.20,611.20 504.70,611.20 504.70,613.42 505.20,613.42 505.20,615.64 505.70,615.64 505.70,617.86 506.20,617.86 506.20,620.08 506.70,620.08 506.70,622.30 531.50,622.30 531.50,634.70 580.00,634.70 580.00,651.40 603.60,651.40 603.60,667.50 652.00,667.50" fill="none" stroke="#d9bc25" stroke-width="1.3" />
<polyline points="453.30,519.90 458.10,519.90 458.10,523.80 461.60,523.80 461.60,529.10 463.80,529.10 463.80,533.70 472.50,533.70 472.50,539.30 495.70,539.30 495.70,549.50 590.70,549.50" fill="none" stroke="#3f76ca" stroke-width="1.3" />
<path d="M455.90,524.30H462.90M459.40,520.80V527.80M469.30,569.50H476.30M472.80,566.00V573.00M470.50,574.50H477.50M474.00,571.00V578.00M477.90,591.80H484.90M481.40,588.30V595.30M480.40,596.80H487.40M483.90,593.30V600.30M485.40,602.80H492.40M488.90,599.30V606.30M487.90,602.80H494.90M491.40,599.30V606.30M492.80,602.80H499.80M496.30,599.30V606.30M499.50,611.20H506.50M503.00,607.70V614.70M502.00,612.40H509.00M505.50,608.90V615.90M520.50,622.30H527.50M524.00,618.80V625.80M534.20,634.70H541.20M537.70,631.20V638.20M646.00,667.50H653.00M649.50,664.00V671.00" stroke="#d9bc25" stroke-width="1.1" fill="none"/>
<path d="M462.00,533.70H469.00M465.50,530.20V537.20M469.00,533.70H476.00M472.50,530.20V537.20M469.00,539.30H476.00M472.50,535.80V542.80M475.20,539.30H482.20M478.70,535.80V542.80M476.00,539.30H483.00M479.50,535.80V542.80M477.30,539.30H484.30M480.80,535.80V542.80M478.70,539.30H485.70M482.20,535.80V542.80M480.00,539.30H487.00M483.50,535.80V542.80M481.30,539.30H488.30M484.80,535.80V542.80M483.00,539.30H490.00M486.50,535.80V542.80M484.40,539.30H491.40M487.90,535.80V542.80M487.00,539.30H494.00M490.50,535.80V542.80M492.20,539.30H499.20M495.70,535.80V542.80M500.10,549.50H507.10M503.60,546.00V553.00M501.40,549.50H508.40M504.90,546.00V553.00M502.70,549.50H509.70M506.20,546.00V553.00M514.00,549.50H521.00M517.50,546.00V553.00M522.70,549.50H529.70M526.20,546.00V553.00M523.90,549.50H530.90M527.40,546.00V553.00M526.40,549.50H533.40M529.90,546.00V553.00M543.30,549.50H550.30M546.80,546.00V553.00M554.90,549.50H561.90M558.40,546.00V553.00M566.10,549.50H573.10M569.60,546.00V553.00M584.00,549.50H591.00M587.50,546.00V553.00" stroke="#3f76ca" stroke-width="1.1" fill="none"/>
<rect x="120.5" y="744.5" width="182.0" height="181.0" fill="none" stroke="#222" stroke-width="1"/>
<line x1="117.40" y1="919.40" x2="120.50" y2="919.40" stroke="#222" stroke-width="1" />
<text transform="translate(112.10,926.05) rotate(-90)" x="-0.40" y="0" font-size="9.90" textLength="14.09" lengthAdjust="spacingAndGlyphs" fill="#000" font-family='"Liberation Sans", sans-serif' font-weight="normal">0.0</text>
<line x1="127.10" y1="925.50" x2="127.10" y2="928.60" stroke="#222" stroke-width="1" />
<text x="119.95" y="942.00" font-size="10.20" textLength="14.30" lengthAdjust="spacingAndGlyphs" fill="#000" font-family='"Liberation Sans", sans-serif' font-weight="normal" >0.0</text>
<line x1="117.40" y1="885.70" x2="120.50" y2="885.70" stroke="#222" stroke-width="1" />
<text transform="translate(112.10,892.35) rotate(-90)" x="-0.40" y="0" font-size="9.90" textLength="14.21" lengthAdjust="spacingAndGlyphs" fill="#000" font-family='"Liberation Sans", sans-serif' font-weight="normal">0.2</text>
<line x1="160.90" y1="925.50" x2="160.90" y2="928.60" stroke="#222" stroke-width="1" />
<text x="153.75" y="942.00" font-size="10.20" textLength="14.42" lengthAdjust="spacingAndGlyphs" fill="#000" font-family='"Liberation Sans", sans-serif' font-weight="normal" >0.2</text>
<line x1="117.40" y1="852.00" x2="120.50" y2="852.00" stroke="#222" stroke-width="1" />
<text transform="translate(112.10,858.65) rotate(-90)" x="-0.39" y="0" font-size="9.90" textLength="13.99" lengthAdjust="spacingAndGlyphs" fill="#000" font-family='"Liberation Sans", sans-serif' font-weight="normal">0.4</text>
<line x1="194.70" y1="925.50" x2="194.70" y2="928.60" stroke="#222" stroke-width="1" />
<text x="187.55" y="942.00" font-size="10.20" textLength="14.20" lengthAdjust="spacingAndGlyphs" fill="#000" font-family='"Liberation Sans", sans-serif' font-weight="normal" >0.4</text>
<line x1="117.40" y1="818.30" x2="120.50" y2="818.30" stroke="#222" stroke-width="1" />
<text transform="translate(112.10,824.95) rotate(-90)" x="-0.40" y="0" font-size="9.90" textLength="14.15" lengthAdjust="spacingAndGlyphs" fill="#000" font-family='"Liberation Sans", sans-serif' font-weight="normal">0.6</text>
<line x1="228.50" y1="925.50" x2="228.50" y2="928.60" stroke="#222" stroke-width="1" />
<text x="221.35" y="942.00" font-size="10.20" textLength="14.36" lengthAdjust="spacingAndGlyphs" fill="#000" font-family='"Liberation Sans", sans-serif' font-weight="normal" >0.6</text>
<line x1="117.40" y1="784.60" x2="120.50" y2="784.60" stroke="#222" stroke-width="1" />
<text transform="translate(112.10,791.25) rotate(-90)" x="-0.40" y="0" font-size="9.90" textLength="14.14" lengthAdjust="spacingAndGlyphs" fill="#000" font-family='"Liberation Sans", sans-serif' font-weight="normal">0.8</text>
<line x1="262.30" y1="925.50" x2="262.30" y2="928.60" stroke="#222" stroke-width="1" />
<text x="255.15" y="942.00" font-size="10.20" textLength="14.35" lengthAdjust="spacingAndGlyphs" fill="#000" font-family='"Liberation Sans", sans-serif' font-weight="normal" >0.8</text>
<line x1="117.40" y1="750.90" x2="120.50" y2="750.90" stroke="#222" stroke-width="1" />
<text transform="translate(112.10,757.55) rotate(-90)" x="-0.79" y="0" font-size="9.90" textLength="14.50" lengthAdjust="spacingAndGlyphs" fill="#000" font-family='"Liberation Sans", sans-serif' font-weight="normal">1.0</text>
<line x1="296.10" y1="925.50" x2="296.10" y2="928.60" stroke="#222" stroke-width="1" />
<text x="288.55" y="942.00" font-size="10.20" textLength="14.72" lengthAdjust="spacingAndGlyphs" fill="#000" font-family='"Liberation Sans", sans-serif' font-weight="normal" >1.0</text>
<text x="167.71" y="960.20" font-size="10.20" textLength="88.73" lengthAdjust="spacingAndGlyphs" fill="#000" font-family='"Liberation Sans", sans-serif' font-weight="normal" >1−Specificity (FPR)</text>
<text transform="translate(94.00,873.50) rotate(-90)" x="-0.48" y="0" font-size="9.90" textLength="77.63" lengthAdjust="spacingAndGlyphs" fill="#000" font-family='"Liberation Sans", sans-serif' font-weight="normal">Sensitivity (TPR)</text>
<text x="149.07" y="735.70" font-size="12.30" textLength="125.07" lengthAdjust="spacingAndGlyphs" fill="#000" font-family='"Liberation Sans", sans-serif' font-weight="bold" >TCGA training dataset</text>
<line x1="127.10" y1="919.40" x2="296.10" y2="750.90" stroke="#404040" stroke-width="1.1" stroke-dasharray="3.8 3"/>
<polyline points="127.40,919.20 127.40,898.03 127.40,880.51 130.76,880.51 130.76,881.24 132.22,881.24 132.22,878.32 132.95,878.32 132.95,876.13 134.41,876.13 134.41,873.94 134.77,873.94 134.77,871.75 135.14,871.75 135.14,869.56 136.60,869.56 136.60,867.37 138.06,867.37 138.06,865.91 139.52,865.91 139.52,863.72 139.88,863.72 139.88,861.53 140.25,861.53 140.25,859.34 140.61,859.34 140.61,857.15 140.98,857.15 140.98,854.96 141.34,854.96 141.34,852.77 141.71,852.77 141.71,850.95 142.07,850.95 142.07,849.12 142.44,849.12 142.44,848.39 145.36,848.39 145.36,846.93 147.55,846.93 147.55,848.39 148.28,848.39 148.28,846.93 149.01,846.93 149.01,844.74 151.20,844.74 151.20,843.28 153.39,843.28 153.39,842.55 155.58,842.55 155.58,841.09 157.04,841.09 157.04,838.91 156.31,838.91 156.31,836.72 154.12,836.72 154.12,834.53 153.39,834.53 153.39,832.34 156.31,832.34 156.31,830.88 158.50,830.88 158.50,828.69 160.69,828.69 160.69,825.77 161.42,825.77 161.42,822.85 162.88,822.85 162.88,821.39 162.88,819.20 162.15,819.20 162.15,816.28 160.69,816.28 160.69,814.09 159.23,814.09 159.23,812.63 157.77,812.63 157.77,811.90 159.96,811.90 159.96,808.98 160.69,808.98 160.69,807.52 161.42,807.52 161.42,806.06 163.61,806.06 163.61,803.14 164.34,803.14 164.34,800.95 165.80,800.95 165.80,799.49 168.72,799.49 168.72,798.03 171.64,798.03 171.64,796.57 174.55,796.57 174.55,795.84 177.47,795.84 177.47,796.57 180.39,796.57 180.39,797.30 183.31,797.30 183.31,795.84 186.23,795.84 186.23,796.57 189.15,796.57 189.15,794.38 190.61,794.38 190.61,792.92 192.07,792.92 192.07,792.63 194.99,792.63 194.99,791.46 197.91,791.46 197.91,790.00 200.83,790.00 200.83,787.92 201.79,787.92 201.79,786.90 203.83,786.90 203.83,785.87 205.87,785.87 205.87,785.06 208.43,785.06 208.43,784.24 210.98,784.24 210.98,781.79 214.05,781.79 214.05,781.58 216.60,781.58 216.60,781.38 219.16,781.38 219.16,779.54 219.67,779.54 219.67,777.70 220.18,777.70 220.18,776.88 222.22,776.88 222.22,776.06 224.27,776.06 224.27,775.86 226.31,775.86 226.31,775.66 228.36,775.66 228.36,773.61 231.42,773.61 231.42,772.59 234.49,772.59 234.49,771.16 236.53,771.16 236.53,769.52 238.57,769.52 238.57,769.01 240.62,769.01 240.62,768.50 242.66,768.50 242.66,767.99 244.71,767.99 244.71,767.48 246.75,767.48 246.75,767.28 248.79,767.28 248.79,767.07 250.84,767.07 250.84,765.44 252.88,765.44 252.88,764.42 255.95,764.42 255.95,762.98 259.01,762.98 259.01,762.17 261.06,762.17 261.06,761.35 263.10,761.35 263.10,760.53 265.14,760.53 265.14,759.71 267.19,759.71 267.19,758.69 269.23,758.69 269.23,757.67 271.27,757.67 271.27,756.65 273.32,756.65 273.32,755.63 275.36,755.63 275.36,754.20 277.41,754.20 277.41,752.77 279.45,752.77 279.45,752.15 281.49,752.15 281.49,751.54 283.54,751.54 283.54,751.85 285.58,751.85 285.58,752.15 287.62,752.15 287.62,751.64 289.67,751.64 289.67,751.13 291.71,751.13 291.71,751.03 293.86,751.03 293.86,750.93 296.00,750.93" fill="none" stroke="#3a70d2" stroke-width="1.5" stroke-linejoin="round"/>
<polyline points="127.40,919.20 127.40,906.79 127.40,904.84 127.79,904.84 127.79,902.90 128.18,902.90 128.18,900.95 128.57,900.95 128.57,898.76 128.75,898.76 128.75,896.57 128.93,896.57 128.93,894.38 129.12,894.38 129.12,892.19 129.30,892.19 129.30,883.43 129.30,881.48 129.54,881.48 129.54,879.54 129.79,879.54 129.79,877.59 130.03,877.59 130.03,875.40 131.49,875.40 131.49,874.67 132.95,874.67 132.95,872.85 133.68,872.85 133.68,871.02 134.41,871.02 134.41,869.20 135.14,869.20 135.14,867.37 135.87,867.37 135.87,864.45 137.33,864.45 137.33,861.53 138.79,861.53 138.79,859.34 139.15,859.34 139.15,857.15 139.52,857.15 139.52,854.96 139.88,854.96 139.88,852.77 140.25,852.77 140.25,850.58 140.61,850.58 140.61,848.39 140.98,848.39 140.98,845.47 142.44,845.47 142.44,842.55 143.90,842.55 143.90,839.64 146.09,839.64 146.09,837.45 148.28,837.45 148.28,835.26 151.20,835.26 151.20,833.80 154.12,833.80 154.12,833.07 155.94,833.07 155.94,832.34 157.77,832.34 157.77,830.15 159.96,830.15 159.96,827.96 161.42,827.96 161.42,825.04 162.88,825.04 162.88,823.21 163.61,823.21 163.61,821.39 164.34,821.39 164.34,818.47 165.80,818.47 165.80,816.64 166.16,816.64 166.16,814.82 166.53,814.82 166.53,812.63 166.89,812.63 166.89,810.44 167.26,810.44 167.26,808.98 168.72,808.98 168.72,808.25 171.64,808.25 171.64,806.06 172.36,806.06 172.36,803.87 173.82,803.87 173.82,801.68 174.55,801.68 174.55,798.76 175.28,798.76 175.28,795.84 176.01,795.84 176.01,795.11 178.20,795.11 178.20,793.65 180.39,793.65 180.39,792.92 182.58,792.92 182.58,791.46 184.77,791.46 184.77,790.73 187.69,790.73 187.69,790.00 190.61,790.00 190.61,790.37 193.61,790.37 193.61,790.17 195.66,790.17 195.66,789.96 197.70,789.96 197.70,787.92 200.77,787.92 200.77,786.90 202.81,786.90 202.81,783.83 205.87,783.83 205.87,782.81 207.92,782.81 207.92,781.79 209.96,781.79 209.96,780.77 213.03,780.77 213.03,778.21 213.54,778.21 213.54,775.66 214.05,775.66 214.05,773.61 217.12,773.61 217.12,773.10 219.67,773.10 219.67,772.59 222.22,772.59 222.22,772.08 224.27,772.08 224.27,771.57 226.31,771.57 226.31,771.36 228.36,771.36 228.36,771.16 230.40,771.16 230.40,770.85 232.44,770.85 232.44,770.55 234.49,770.55 234.49,769.12 237.55,769.12 237.55,767.07 240.62,767.07 240.62,766.25 242.66,766.25 242.66,765.44 244.71,765.44 248.79,765.44 248.79,763.80 250.84,763.80 250.84,763.39 252.88,763.39 252.88,762.37 255.95,762.37 255.95,761.76 259.01,761.76 259.01,760.74 261.06,760.74 261.06,759.71 263.10,759.71 263.10,759.00 265.14,759.00 265.14,758.28 267.19,758.28 267.19,757.77 269.23,757.77 269.23,757.26 271.27,757.26 271.27,757.06 273.83,757.06 273.83,756.85 276.38,756.85 276.38,755.63 278.43,755.63 278.43,754.20 281.49,754.20 281.49,753.86 283.54,753.86 283.54,753.52 285.58,753.52 285.58,753.17 287.62,753.17 287.62,752.61 289.72,752.61 289.72,752.05 291.81,752.05 291.81,751.49 293.91,751.49 293.91,750.93 296.00,750.93" fill="none" stroke="#e2c22c" stroke-width="1.5" stroke-linejoin="round"/>
<polyline points="127.40,919.20 127.40,911.17 127.40,908.98 127.77,908.98 127.77,906.79 128.13,906.79 128.13,904.84 128.52,904.84 128.52,902.90 128.91,902.90 128.91,900.95 129.30,900.95 129.30,899.00 129.54,899.00 129.54,897.06 129.79,897.06 129.79,895.11 130.03,895.11 130.03,892.19 130.76,892.19 130.76,890.73 131.49,890.73 131.49,887.81 132.22,887.81 132.22,885.62 132.58,885.62 132.58,883.43 132.95,883.43 132.95,881.48 133.19,881.48 133.19,879.54 133.44,879.54 133.44,877.59 133.68,877.59 133.68,875.64 134.17,875.64 134.17,873.70 134.65,873.70 134.65,871.75 135.14,871.75 135.14,869.56 135.50,869.56 135.50,867.37 135.87,867.37 135.87,865.18 136.23,865.18 136.23,862.99 136.60,862.99 136.60,861.05 136.84,861.05 136.84,859.10 137.09,859.10 137.09,857.15 137.33,857.15 137.33,855.21 137.57,855.21 137.57,853.26 137.82,853.26 137.82,851.31 138.06,851.31 138.06,849.49 138.79,849.49 138.79,847.66 139.52,847.66 139.52,846.20 140.98,846.20 140.98,844.01 142.44,844.01 142.44,841.82 143.90,841.82 143.90,838.91 145.36,838.91 145.36,836.72 146.09,836.72 146.09,834.53 146.45,834.53 146.45,832.34 146.82,832.34 146.82,830.15 147.55,830.15 151.20,830.15 151.20,828.69 154.12,828.69 154.12,826.50 154.85,826.50 158.50,826.50 158.50,825.77 160.69,825.77 160.69,823.58 161.42,823.58 161.42,822.12 162.88,822.12 162.88,821.39 165.07,821.39 165.07,818.47 165.80,818.47 165.80,816.28 166.53,816.28 166.53,814.82 168.72,814.82 168.72,813.36 170.18,813.36 170.18,812.63 172.36,812.63 172.36,810.44 173.82,810.44 173.82,809.71 176.74,809.71 176.74,808.25 178.93,808.25 178.93,806.06 180.39,806.06 180.39,804.60 183.31,804.60 183.31,803.14 184.77,803.14 184.77,802.41 187.69,802.41 187.69,801.68 190.61,801.68 190.61,800.95 193.53,800.95 193.53,798.76 194.99,798.76 194.99,797.30 197.91,797.30 197.91,795.84 200.83,795.84 200.83,794.38 203.75,794.38 203.75,792.92 206.67,792.92 206.67,791.46 209.59,791.46 209.59,790.00 212.51,790.00 212.51,788.33 214.05,788.33 214.05,787.10 216.09,787.10 216.09,785.87 218.14,785.87 218.14,782.81 220.18,782.81 220.18,782.47 222.22,782.47 222.22,782.13 224.27,782.13 224.27,781.79 226.31,781.79 226.31,778.72 228.36,778.72 228.36,776.68 231.42,776.68 231.42,773.61 234.49,773.61 234.49,770.55 237.55,770.55 237.55,768.50 238.06,768.50 238.06,766.46 238.57,766.46 238.57,766.20 240.62,766.20 240.62,765.95 242.66,765.95 242.66,765.69 244.71,765.69 244.71,765.44 246.75,765.44 246.75,763.90 248.79,763.90 248.79,762.37 250.84,762.37 250.84,759.71 250.84,759.61 252.88,759.61 252.88,759.51 254.92,759.51 254.92,759.41 256.97,759.41 256.97,759.31 259.01,759.31 259.01,757.26 260.03,757.26 260.03,757.18 262.28,757.18 262.28,757.10 264.53,757.10 264.53,757.02 266.78,757.02 266.78,756.94 269.03,756.94 269.03,756.85 271.27,756.85 271.27,754.20 272.30,754.20 272.30,754.11 274.49,754.11 274.49,754.02 276.68,754.02 276.68,753.93 278.87,753.93 278.87,753.85 281.06,753.85 281.06,753.76 283.24,753.76 283.24,753.67 285.43,753.67 285.43,753.58 287.62,753.58 287.62,753.45 290.01,753.45 290.01,753.31 292.39,753.31 292.39,753.17 294.78,753.17 294.78,750.93 296.00,750.93" fill="none" stroke="#cc3a3a" stroke-width="1.5" stroke-linejoin="round"/>
<text x="211.49" y="891.50" font-size="10.10" textLength="81.35" lengthAdjust="spacingAndGlyphs" fill="#3a70d2" font-family='"Liberation Sans", sans-serif' font-weight="normal" >5−year AUC: 0.75</text>
<text x="211.51" y="901.60" font-size="10.10" textLength="81.35" lengthAdjust="spacingAndGlyphs" fill="#e2c22c" font-family='"Liberation Sans", sans-serif' font-weight="normal" >3−year AUC: 0.76</text>
<text x="211.93" y="911.70" font-size="10.10" textLength="80.77" lengthAdjust="spacingAndGlyphs" fill="#cc3a3a" font-family='"Liberation Sans", sans-serif' font-weight="normal" >1−year AUC: 0.74</text>
<rect x="474.5" y="755.5" width="168.0" height="168.0" fill="none" stroke="#222" stroke-width="1"/>
<line x1="471.50" y1="917.60" x2="474.50" y2="917.60" stroke="#222" stroke-width="1" />
<text transform="translate(466.20,924.00) rotate(-90)" x="-0.38" y="0" font-size="9.60" textLength="13.56" lengthAdjust="spacingAndGlyphs" fill="#000" font-family='"Liberation Sans", sans-serif' font-weight="normal">0.0</text>
<line x1="480.90" y1="923.50" x2="480.90" y2="926.70" stroke="#222" stroke-width="1" />
<text x="474.01" y="939.90" font-size="9.80" textLength="13.77" lengthAdjust="spacingAndGlyphs" fill="#000" font-family='"Liberation Sans", sans-serif' font-weight="normal" >0.0</text>
<line x1="471.50" y1="886.24" x2="474.50" y2="886.24" stroke="#222" stroke-width="1" />
<text transform="translate(466.20,892.64) rotate(-90)" x="-0.38" y="0" font-size="9.60" textLength="13.68" lengthAdjust="spacingAndGlyphs" fill="#000" font-family='"Liberation Sans", sans-serif' font-weight="normal">0.2</text>
<line x1="511.90" y1="923.50" x2="511.90" y2="926.70" stroke="#222" stroke-width="1" />
<text x="505.01" y="939.90" font-size="9.80" textLength="13.89" lengthAdjust="spacingAndGlyphs" fill="#000" font-family='"Liberation Sans", sans-serif' font-weight="normal" >0.2</text>
<line x1="471.50" y1="854.88" x2="474.50" y2="854.88" stroke="#222" stroke-width="1" />
<text transform="translate(466.20,861.28) rotate(-90)" x="-0.38" y="0" font-size="9.60" textLength="13.46" lengthAdjust="spacingAndGlyphs" fill="#000" font-family='"Liberation Sans", sans-serif' font-weight="normal">0.4</text>
<line x1="542.90" y1="923.50" x2="542.90" y2="926.70" stroke="#222" stroke-width="1" />
<text x="536.02" y="939.90" font-size="9.80" textLength="13.67" lengthAdjust="spacingAndGlyphs" fill="#000" font-family='"Liberation Sans", sans-serif' font-weight="normal" >0.4</text>
<line x1="471.50" y1="823.52" x2="474.50" y2="823.52" stroke="#222" stroke-width="1" />
<text transform="translate(466.20,829.92) rotate(-90)" x="-0.38" y="0" font-size="9.60" textLength="13.61" lengthAdjust="spacingAndGlyphs" fill="#000" font-family='"Liberation Sans", sans-serif' font-weight="normal">0.6</text>
<line x1="573.90" y1="923.50" x2="573.90" y2="926.70" stroke="#222" stroke-width="1" />
<text x="567.01" y="939.90" font-size="9.80" textLength="13.83" lengthAdjust="spacingAndGlyphs" fill="#000" font-family='"Liberation Sans", sans-serif' font-weight="normal" >0.6</text>
<line x1="471.50" y1="792.16" x2="474.50" y2="792.16" stroke="#222" stroke-width="1" />
<text transform="translate(466.20,798.56) rotate(-90)" x="-0.38" y="0" font-size="9.60" textLength="13.60" lengthAdjust="spacingAndGlyphs" fill="#000" font-family='"Liberation Sans", sans-serif' font-weight="normal">0.8</text>
<line x1="604.90" y1="923.50" x2="604.90" y2="926.70" stroke="#222" stroke-width="1" />
<text x="598.01" y="939.90" font-size="9.80" textLength="13.82" lengthAdjust="spacingAndGlyphs" fill="#000" font-family='"Liberation Sans", sans-serif' font-weight="normal" >0.8</text>
<line x1="471.50" y1="760.80" x2="474.50" y2="760.80" stroke="#222" stroke-width="1" />
<text transform="translate(466.20,767.20) rotate(-90)" x="-0.76" y="0" font-size="9.60" textLength="13.96" lengthAdjust="spacingAndGlyphs" fill="#000" font-family='"Liberation Sans", sans-serif' font-weight="normal">1.0</text>
<line x1="635.90" y1="923.50" x2="635.90" y2="926.70" stroke="#222" stroke-width="1" />
<text x="628.63" y="939.90" font-size="9.80" textLength="14.17" lengthAdjust="spacingAndGlyphs" fill="#000" font-family='"Liberation Sans", sans-serif' font-weight="normal" >1.0</text>
<text x="518.08" y="955.80" font-size="9.60" textLength="81.21" lengthAdjust="spacingAndGlyphs" fill="#000" font-family='"Liberation Sans", sans-serif' font-weight="normal" >1−Specificity (FPR)</text>
<text transform="translate(447.70,874.70) rotate(-90)" x="-0.44" y="0" font-size="9.60" textLength="71.95" lengthAdjust="spacingAndGlyphs" fill="#000" font-family='"Liberation Sans", sans-serif' font-weight="normal">Sensitivity (TPR)</text>
<text x="502.88" y="746.80" font-size="10.90" textLength="111.85" lengthAdjust="spacingAndGlyphs" fill="#000" font-family='"Liberation Sans", sans-serif' font-weight="bold" >TCGA testing dataset</text>
<line x1="480.90" y1="917.60" x2="635.90" y2="760.80" stroke="#404040" stroke-width="1.1" stroke-dasharray="3.8 3"/>
<polyline points="480.70,917.09 480.70,903.16 484.49,903.16 485.13,900.00 495.89,900.63 494.62,896.20 493.99,884.81 498.42,884.81 498.42,870.89 496.52,865.82 495.89,843.67 500.32,843.67 501.58,844.94 505.38,844.94 506.01,825.32 507.28,823.42 511.71,820.25 512.97,815.19 515.51,812.66 516.77,812.03 520.00,807.54 523.56,804.87 527.12,802.20 528.01,797.39 532.47,799.52 542.26,798.63 541.37,792.40 545.82,791.51 548.50,789.73 555.62,786.17 561.85,782.60 567.20,781.71 568.09,777.26 569.87,772.81 572.54,768.36 574.32,760.34 578.77,760.34 584.11,757.67 589.46,760.34 594.80,761.23 598.36,759.45 605.49,757.67 612.61,760.34 616.17,759.45 619.73,759.45 625.08,758.21 630.42,758.92 636.65,761.59" fill="none" stroke="#3a70d2" stroke-width="1.5" stroke-linejoin="round"/>
<polyline points="480.70,917.09 480.70,901.27 485.13,901.27 485.13,896.84 494.62,898.10 492.72,891.14 492.72,879.11 496.52,879.11 496.52,863.29 500.95,863.29 500.95,840.51 508.54,840.51 508.54,823.42 510.44,820.25 512.97,817.72 516.77,816.46 516.77,808.23 520.00,803.09 525.34,801.66 528.90,799.52 532.47,797.74 533.36,793.29 537.81,793.82 544.93,795.07 545.82,787.95 550.28,789.73 555.62,785.28 562.74,782.60 568.09,781.71 573.43,783.50 575.21,776.37 576.99,771.03 580.55,760.34 585.89,759.45 591.24,758.56 594.80,761.77 598.36,759.45 603.70,758.56 610.83,760.34 616.17,761.23 617.95,759.45 621.51,758.56 626.86,759.45 630.42,760.34 636.65,761.59" fill="none" stroke="#e2c22c" stroke-width="1.5" stroke-linejoin="round"/>
<polyline points="480.70,917.09 480.70,875.95 483.23,875.95 483.86,865.82 493.35,870.25 493.35,855.70 501.58,857.59 501.58,842.41 507.28,843.04 506.65,814.94 520.00,816.44 526.23,816.44 526.23,802.20 553.84,803.98 553.84,789.73 587.68,790.62 587.68,776.37 589.46,776.37 590.35,763.01 594.80,761.77 623.29,762.48 625.08,761.77 636.65,761.59" fill="none" stroke="#cc3a3a" stroke-width="1.5" stroke-linejoin="round"/>
<text x="558.62" y="891.90" font-size="9.30" textLength="75.03" lengthAdjust="spacingAndGlyphs" fill="#3a70d2" font-family='"Liberation Sans", sans-serif' font-weight="normal" >5−year AUC: 0.79</text>
<text x="558.64" y="901.30" font-size="9.30" textLength="74.97" lengthAdjust="spacingAndGlyphs" fill="#e2c22c" font-family='"Liberation Sans", sans-serif' font-weight="normal" >3−year AUC: 0.78</text>
<text x="559.08" y="910.60" font-size="9.30" textLength="74.53" lengthAdjust="spacingAndGlyphs" fill="#cc3a3a" font-family='"Liberation Sans", sans-serif' font-weight="normal" >1−year AUC: 0.76</text>
<defs><clipPath id="clipB"><rect x="440" y="25.5" width="243" height="205.5"/></clipPath></defs>
</svg></body></html>
